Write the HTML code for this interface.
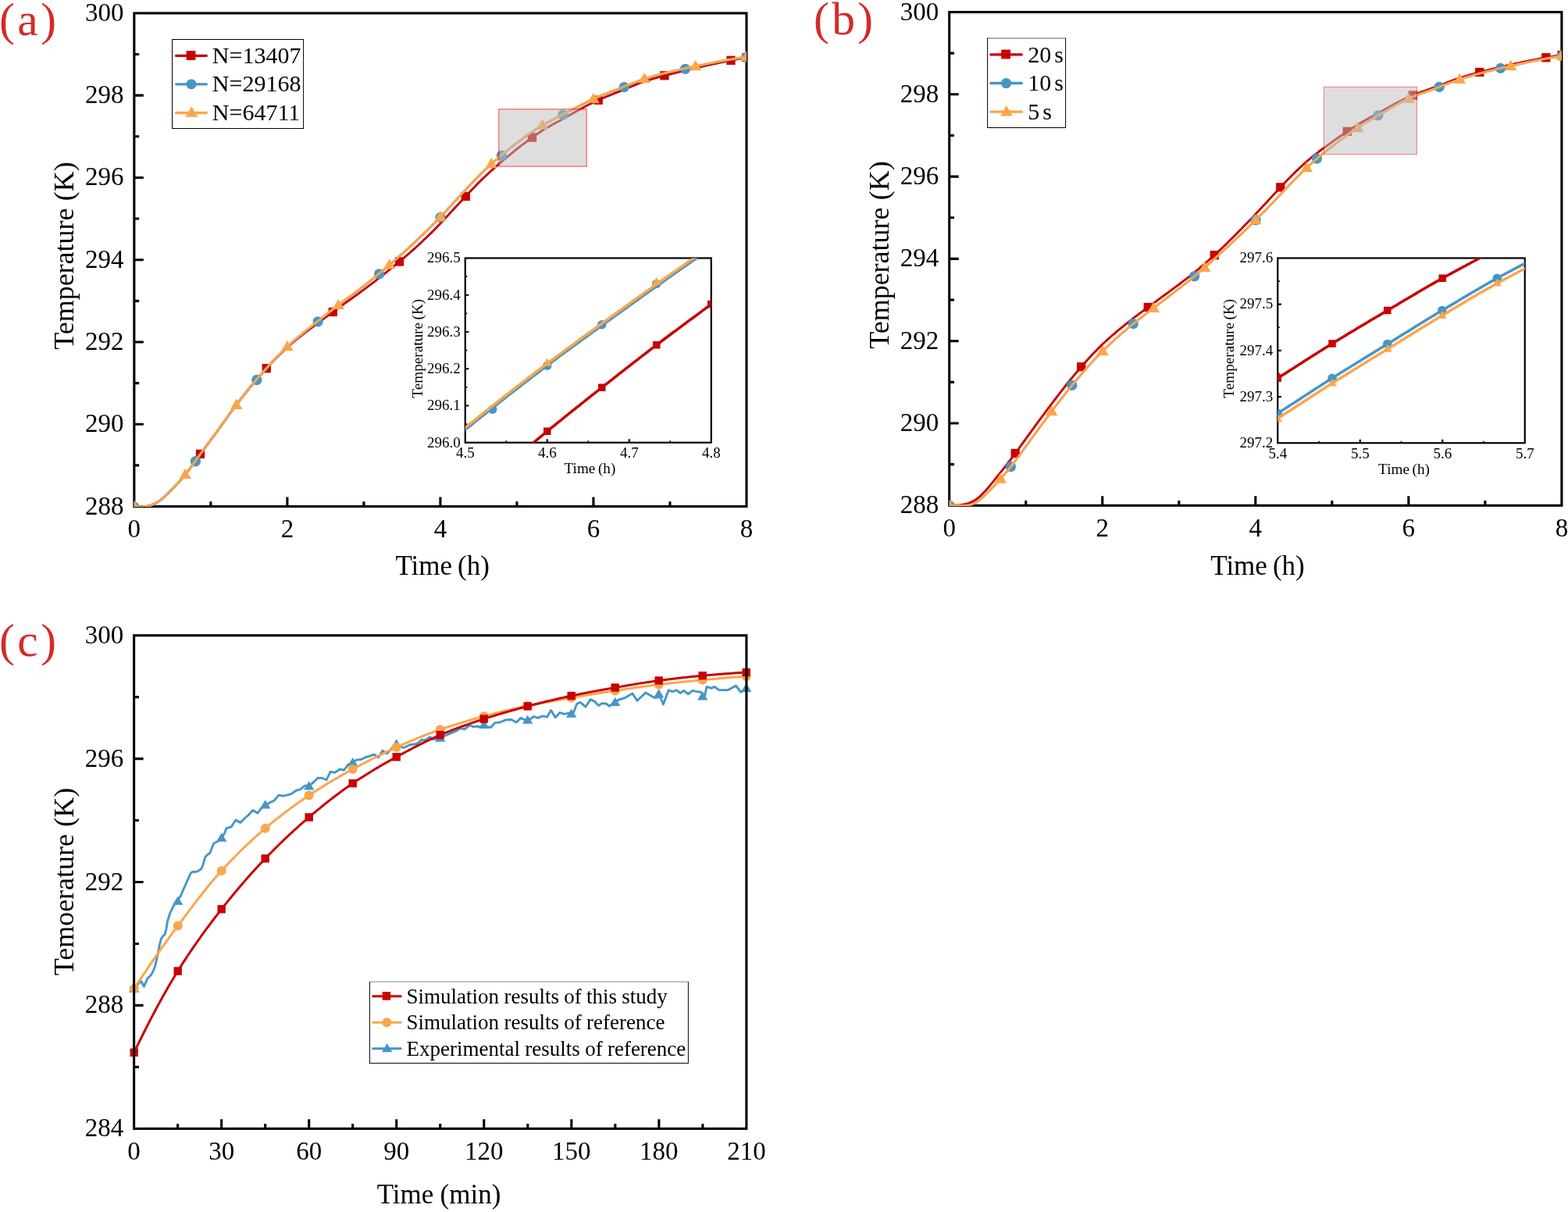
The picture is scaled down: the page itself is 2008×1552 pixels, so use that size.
<!DOCTYPE html>
<html lang="en"><head><meta charset="utf-8"><title>Temperature curves</title>
<style>html,body{margin:0;padding:0;background:#fff}svg{display:block}text{font-family:'Liberation Serif',serif}</style>
</head><body>
<svg width="2008" height="1552" viewBox="0 0 2008 1552" role="img" aria-label="Temperature versus time plots">
<rect width="2008" height="1552" fill="#fff"/>
<g>
<rect x="171.85" y="16.9" width="784.15" height="631.6" fill="none" stroke="#000" stroke-width="3.1"/>
<path d="M171.85 122.17h12M171.85 227.43h12M171.85 332.7h12M171.85 437.97h12M171.85 543.23h12" stroke="#000" stroke-width="3.1" fill="none"/>
<path d="M171.85 69.53h6.3M171.85 174.8h6.3M171.85 280.07h6.3M171.85 385.33h6.3M171.85 490.6h6.3M171.85 595.87h6.3" stroke="#000" stroke-width="3.1" fill="none"/>
<path d="M367.89 648.5v-12M563.92 648.5v-12M759.96 648.5v-12" stroke="#000" stroke-width="3.1" fill="none"/>
<path d="M269.87 648.5v-6.3M465.91 648.5v-6.3M661.94 648.5v-6.3M857.98 648.5v-6.3" stroke="#000" stroke-width="3.1" fill="none"/>
<text x="158.45" y="26.9" font-size="33" text-anchor="end" fill="#000">300</text>
<text x="158.45" y="132.17" font-size="33" text-anchor="end" fill="#000">298</text>
<text x="158.45" y="237.43" font-size="33" text-anchor="end" fill="#000">296</text>
<text x="158.45" y="342.7" font-size="33" text-anchor="end" fill="#000">294</text>
<text x="158.45" y="447.97" font-size="33" text-anchor="end" fill="#000">292</text>
<text x="158.45" y="553.23" font-size="33" text-anchor="end" fill="#000">290</text>
<text x="158.45" y="658.5" font-size="33" text-anchor="end" fill="#000">288</text>
<text x="171.85" y="687.8" font-size="33" text-anchor="middle" fill="#000">0</text>
<text x="367.89" y="687.8" font-size="33" text-anchor="middle" fill="#000">2</text>
<text x="563.92" y="687.8" font-size="33" text-anchor="middle" fill="#000">4</text>
<text x="759.96" y="687.8" font-size="33" text-anchor="middle" fill="#000">6</text>
<text x="956" y="687.8" font-size="33" text-anchor="middle" fill="#000">8</text>
<text x="566.65" y="735.5" font-size="35" text-anchor="middle" fill="#000" style="word-spacing:-1.7px">Time (h)</text>
<text transform="translate(94.35 327.5) rotate(-90)" font-size="36" text-anchor="middle" style="word-spacing:0.3px">Temperature (K)</text>
<clipPath id="c1"><rect x="171.6" y="16.9" width="784.5" height="632.1"/></clipPath>
<g clip-path="url(#c1)">
<path d="M171.85 648.46 L173.85 648.6 L175.85 648.71 L177.85 648.77 L179.85 648.79 L181.85 648.74 L183.85 648.64 L185.85 648.46 L187.85 648.19 L189.85 647.81 L191.85 647.29 L193.85 646.63 L195.85 645.83 L197.85 644.89 L199.86 643.83 L201.86 642.65 L203.86 641.34 L205.86 639.89 L207.86 638.29 L209.86 636.56 L211.86 634.72 L213.86 632.8 L215.86 630.83 L217.86 628.83 L219.86 626.81 L221.86 624.77 L223.86 622.7 L225.86 620.6 L227.86 618.47 L229.86 616.29 L231.86 614.06 L233.86 611.77 L235.86 609.41 L237.86 606.98 L239.86 604.45 L241.86 601.84 L243.86 599.14 L245.86 596.37 L247.86 593.55 L249.86 590.71 L251.87 587.87 L253.87 585.05 L255.87 582.26 L257.87 579.51 L259.87 576.79 L261.87 574.09 L263.87 571.41 L265.87 568.73 L267.87 566.06 L269.87 563.38 L271.87 560.69 L273.87 557.99 L275.87 555.27 L277.87 552.52 L279.87 549.76 L281.87 546.98 L283.87 544.18 L285.87 541.38 L287.87 538.58 L289.87 535.78 L291.87 532.99 L293.87 530.22 L295.87 527.47 L297.87 524.75 L299.87 522.05 L301.87 519.39 L303.88 516.75 L305.88 514.14 L307.88 511.55 L309.88 508.98 L311.88 506.43 L313.88 503.9 L315.88 501.4 L317.88 498.92 L319.88 496.46 L321.88 494.04 L323.88 491.64 L325.88 489.27 L327.88 486.93 L329.88 484.61 L331.88 482.31 L333.88 480.02 L335.88 477.75 L337.88 475.5 L339.88 473.26 L341.88 471.04 L343.88 468.84 L345.88 466.67 L347.88 464.52 L349.88 462.4 L351.88 460.31 L353.88 458.24 L355.89 456.21 L357.89 454.21 L359.89 452.24 L361.89 450.31 L363.89 448.42 L365.89 446.56 L367.89 444.73 L369.89 442.95 L371.89 441.2 L373.89 439.48 L375.89 437.79 L377.89 436.13 L379.89 434.5 L381.89 432.89 L383.89 431.31 L385.89 429.74 L387.89 428.19 L389.89 426.65 L391.89 425.12 L393.89 423.61 L395.89 422.1 L397.89 420.59 L399.89 419.09 L401.89 417.59 L403.89 416.09 L405.89 414.58 L407.9 413.08 L409.9 411.58 L411.9 410.09 L413.9 408.6 L415.9 407.11 L417.9 405.64 L419.9 404.16 L421.9 402.7 L423.9 401.23 L425.9 399.76 L427.9 398.3 L429.9 396.84 L431.9 395.38 L433.9 393.93 L435.9 392.48 L437.9 391.04 L439.9 389.61 L441.9 388.19 L443.9 386.77 L445.9 385.36 L447.9 383.95 L449.9 382.53 L451.9 381.11 L453.9 379.69 L455.9 378.26 L457.9 376.82 L459.91 375.37 L461.91 373.91 L463.91 372.43 L465.91 370.95 L467.91 369.45 L469.91 367.95 L471.91 366.43 L473.91 364.92 L475.91 363.39 L477.91 361.85 L479.91 360.31 L481.91 358.76 L483.91 357.21 L485.91 355.64 L487.91 354.07 L489.91 352.49 L491.91 350.9 L493.91 349.3 L495.91 347.7 L497.91 346.09 L499.91 344.47 L501.91 342.85 L503.91 341.22 L505.91 339.58 L507.91 337.94 L509.91 336.3 L511.92 334.64 L513.92 332.98 L515.92 331.31 L517.92 329.62 L519.92 327.93 L521.92 326.21 L523.92 324.48 L525.92 322.73 L527.92 320.96 L529.92 319.17 L531.92 317.37 L533.92 315.54 L535.92 313.69 L537.92 311.83 L539.92 309.95 L541.92 308.06 L543.92 306.15 L545.92 304.23 L547.92 302.3 L549.92 300.35 L551.92 298.38 L553.92 296.41 L555.92 294.41 L557.92 292.4 L559.92 290.37 L561.92 288.32 L563.92 286.25 L565.93 284.14 L567.93 282.01 L569.93 279.84 L571.93 277.66 L573.93 275.48 L575.93 273.29 L577.93 271.11 L579.93 268.95 L581.93 266.8 L583.93 264.66 L585.93 262.51 L587.93 260.37 L589.93 258.23 L591.93 256.08 L593.93 253.94 L595.93 251.8 L597.93 249.66 L599.93 247.54 L601.93 245.42 L603.93 243.32 L605.93 241.23 L607.93 239.16 L609.93 237.11 L611.93 235.07 L613.93 233.06 L615.93 231.07 L617.94 229.11 L619.94 227.18 L621.94 225.27 L623.94 223.39 L625.94 221.54 L627.94 219.72 L629.94 217.93 L631.94 216.15 L633.94 214.38 L635.94 212.63 L637.94 210.88 L639.94 209.15 L641.94 207.42 L643.94 205.7 L645.94 204 L647.94 202.31 L649.94 200.62 L651.94 198.96 L653.94 197.3 L655.94 195.66 L657.94 194.04 L659.94 192.43 L661.94 190.83 L663.94 189.25 L665.94 187.69 L667.94 186.14 L669.95 184.6 L671.95 183.08 L673.95 181.58 L675.95 180.09 L677.95 178.62 L679.95 177.17 L681.95 175.73 L683.95 174.32 L685.95 172.93 L687.95 171.55 L689.95 170.2 L691.95 168.88 L693.95 167.58 L695.95 166.31 L697.95 165.08 L699.95 163.87 L701.95 162.7 L703.95 161.55 L705.95 160.42 L707.95 159.32 L709.95 158.22 L711.95 157.13 L713.95 156.05 L715.95 154.96 L717.95 153.87 L719.95 152.77 L721.96 151.66 L723.96 150.54 L725.96 149.41 L727.96 148.28 L729.96 147.15 L731.96 146.02 L733.96 144.88 L735.96 143.75 L737.96 142.62 L739.96 141.5 L741.96 140.39 L743.96 139.29 L745.96 138.2 L747.96 137.12 L749.96 136.06 L751.96 135.02 L753.96 133.99 L755.96 132.99 L757.96 132 L759.96 131.04 L761.96 130.1 L763.96 129.18 L765.96 128.28 L767.96 127.4 L769.96 126.53 L771.96 125.68 L773.97 124.83 L775.97 124 L777.97 123.18 L779.97 122.37 L781.97 121.57 L783.97 120.76 L785.97 119.97 L787.97 119.17 L789.97 118.38 L791.97 117.58 L793.97 116.78 L795.97 115.98 L797.97 115.17 L799.97 114.36 L801.97 113.53 L803.97 112.7 L805.97 111.86 L807.97 111.02 L809.97 110.19 L811.97 109.36 L813.97 108.54 L815.97 107.73 L817.97 106.95 L819.97 106.19 L821.97 105.46 L823.97 104.76 L825.98 104.08 L827.98 103.42 L829.98 102.79 L831.98 102.17 L833.98 101.56 L835.98 100.97 L837.98 100.38 L839.98 99.81 L841.98 99.24 L843.98 98.69 L845.98 98.14 L847.98 97.6 L849.98 97.06 L851.98 96.54 L853.98 96.02 L855.98 95.5 L857.98 94.99 L859.98 94.49 L861.98 93.99 L863.98 93.5 L865.98 93.01 L867.98 92.52 L869.98 92.03 L871.98 91.55 L873.98 91.07 L875.98 90.59 L877.99 90.12 L879.99 89.64 L881.99 89.17 L883.99 88.69 L885.99 88.22 L887.99 87.76 L889.99 87.29 L891.99 86.83 L893.99 86.37 L895.99 85.91 L897.99 85.45 L899.99 84.99 L901.99 84.54 L903.99 84.09 L905.99 83.65 L907.99 83.2 L909.99 82.76 L911.99 82.32 L913.99 81.89 L915.99 81.46 L917.99 81.03 L919.99 80.6 L921.99 80.18 L923.99 79.76 L925.99 79.34 L927.99 78.93 L930 78.52 L932 78.11 L934 77.71 L936 77.31 L938 76.91 L940 76.52 L942 76.13 L944 75.74 L946 75.36 L948 74.98 L950 74.61 L952 74.24 L954 73.87 L956 73.5" fill="none" stroke="#c90000" stroke-width="2.9" stroke-linejoin="round"/>
<rect x="250.85" y="575.74" width="11.3" height="11.3" fill="#c90000"/>
<rect x="335.65" y="466.04" width="11.3" height="11.3" fill="#c90000"/>
<rect x="420.65" y="393.82" width="11.3" height="11.3" fill="#c90000"/>
<rect x="505.85" y="329.34" width="11.3" height="11.3" fill="#c90000"/>
<rect x="590.65" y="245.75" width="11.3" height="11.3" fill="#c90000"/>
<rect x="675.85" y="170.4" width="11.3" height="11.3" fill="#c90000"/>
<rect x="760.55" y="122.52" width="11.3" height="11.3" fill="#c90000"/>
<rect x="845.35" y="91.14" width="11.3" height="11.3" fill="#c90000"/>
<rect x="930.35" y="71.66" width="11.3" height="11.3" fill="#c90000"/>
<rect x="950.35" y="67.85" width="11.3" height="11.3" fill="#c90000"/>
<path d="M171.85 649.06 L173.85 649.2 L175.85 649.31 L177.85 649.37 L179.85 649.39 L181.85 649.34 L183.85 649.24 L185.85 649.06 L187.85 648.79 L189.85 648.41 L191.85 647.89 L193.85 647.23 L195.85 646.43 L197.85 645.49 L199.86 644.43 L201.86 643.25 L203.86 641.94 L205.86 640.49 L207.86 638.89 L209.86 637.16 L211.86 635.32 L213.86 633.4 L215.86 631.43 L217.86 629.43 L219.86 627.41 L221.86 625.37 L223.86 623.3 L225.86 621.2 L227.86 619.07 L229.86 616.89 L231.86 614.66 L233.86 612.37 L235.86 610.01 L237.86 607.58 L239.86 605.05 L241.86 602.44 L243.86 599.74 L245.86 596.97 L247.86 594.15 L249.86 591.31 L251.87 588.47 L253.87 585.65 L255.87 582.86 L257.87 580.11 L259.87 577.39 L261.87 574.69 L263.87 572.01 L265.87 569.33 L267.87 566.66 L269.87 563.98 L271.87 561.29 L273.87 558.59 L275.87 555.87 L277.87 553.12 L279.87 550.36 L281.87 547.58 L283.87 544.78 L285.87 541.98 L287.87 539.18 L289.87 536.38 L291.87 533.59 L293.87 530.82 L295.87 528.07 L297.87 525.35 L299.87 522.65 L301.87 519.98 L303.88 517.34 L305.88 514.72 L307.88 512.13 L309.88 509.55 L311.88 506.99 L313.88 504.45 L315.88 501.94 L317.88 499.44 L319.88 496.98 L321.88 494.53 L323.88 492.12 L325.88 489.73 L327.88 487.37 L329.88 485.03 L331.88 482.71 L333.88 480.4 L335.88 478.11 L337.88 475.83 L339.88 473.56 L341.88 471.31 L343.88 469.08 L345.88 466.87 L347.88 464.68 L349.88 462.51 L351.88 460.37 L353.88 458.25 L355.89 456.16 L357.89 454.1 L359.89 452.07 L361.89 450.07 L363.89 448.1 L365.89 446.17 L367.89 444.28 L369.89 442.42 L371.89 440.6 L373.89 438.8 L375.89 437.04 L377.89 435.31 L379.89 433.6 L381.89 431.92 L383.89 430.26 L385.89 428.62 L387.89 426.99 L389.89 425.37 L391.89 423.77 L393.89 422.17 L395.89 420.58 L397.89 418.99 L399.89 417.4 L401.89 415.81 L403.89 414.22 L405.89 412.62 L407.9 411.02 L409.9 409.42 L411.9 407.82 L413.9 406.23 L415.9 404.64 L417.9 403.06 L419.9 401.48 L421.9 399.91 L423.9 398.35 L425.9 396.79 L427.9 395.24 L429.9 393.69 L431.9 392.15 L433.9 390.61 L435.9 389.09 L437.9 387.58 L439.9 386.07 L441.9 384.58 L443.9 383.09 L445.9 381.61 L447.9 380.13 L449.9 378.64 L451.9 377.16 L453.9 375.67 L455.9 374.17 L457.9 372.66 L459.91 371.14 L461.91 369.61 L463.91 368.06 L465.91 366.5 L467.91 364.93 L469.91 363.34 L471.91 361.75 L473.91 360.15 L475.91 358.55 L477.91 356.93 L479.91 355.31 L481.91 353.67 L483.91 352.03 L485.91 350.38 L487.91 348.72 L489.91 347.05 L491.91 345.37 L493.91 343.68 L495.91 341.98 L497.91 340.27 L499.91 338.55 L501.91 336.82 L503.91 335.08 L505.91 333.33 L507.91 331.57 L509.91 329.8 L511.92 328.02 L513.92 326.23 L515.92 324.42 L517.92 322.61 L519.92 320.8 L521.92 318.97 L523.92 317.13 L525.92 315.28 L527.92 313.43 L529.92 311.56 L531.92 309.69 L533.92 307.81 L535.92 305.92 L537.92 304.02 L539.92 302.11 L541.92 300.19 L543.92 298.27 L545.92 296.33 L547.92 294.38 L549.92 292.41 L551.92 290.44 L553.92 288.44 L555.92 286.44 L557.92 284.42 L559.92 282.37 L561.92 280.31 L563.92 278.22 L565.93 276.11 L567.93 273.96 L569.93 271.79 L571.93 269.59 L573.93 267.4 L575.93 265.2 L577.93 263.01 L579.93 260.84 L581.93 258.68 L583.93 256.52 L585.93 254.37 L587.93 252.22 L589.93 250.06 L591.93 247.9 L593.93 245.75 L595.93 243.59 L597.93 241.44 L599.93 239.3 L601.93 237.17 L603.93 235.05 L605.93 232.95 L607.93 230.86 L609.93 228.79 L611.93 226.74 L613.93 224.72 L615.93 222.72 L617.94 220.75 L619.94 218.8 L621.94 216.89 L623.94 215.01 L625.94 213.17 L627.94 211.36 L629.94 209.57 L631.94 207.82 L633.94 206.08 L635.94 204.35 L637.94 202.64 L639.94 200.94 L641.94 199.26 L643.94 197.59 L645.94 195.93 L647.94 194.29 L649.94 192.66 L651.94 191.04 L653.94 189.44 L655.94 187.86 L657.94 186.29 L659.94 184.73 L661.94 183.2 L663.94 181.68 L665.94 180.17 L667.94 178.69 L669.95 177.22 L671.95 175.77 L673.95 174.34 L675.95 172.93 L677.95 171.54 L679.95 170.16 L681.95 168.81 L683.95 167.48 L685.95 166.17 L687.95 164.87 L689.95 163.61 L691.95 162.36 L693.95 161.14 L695.95 159.95 L697.95 158.79 L699.95 157.67 L701.95 156.57 L703.95 155.5 L705.95 154.45 L707.95 153.43 L709.95 152.41 L711.95 151.4 L713.95 150.4 L715.95 149.39 L717.95 148.38 L719.95 147.36 L721.96 146.34 L723.96 145.3 L725.96 144.26 L727.96 143.21 L729.96 142.16 L731.96 141.1 L733.96 140.05 L735.96 139 L737.96 137.95 L739.96 136.9 L741.96 135.87 L743.96 134.84 L745.96 133.82 L747.96 132.81 L749.96 131.81 L751.96 130.83 L753.96 129.87 L755.96 128.92 L757.96 127.99 L759.96 127.09 L761.96 126.2 L763.96 125.32 L765.96 124.47 L767.96 123.63 L769.96 122.8 L771.96 121.99 L773.97 121.18 L775.97 120.39 L777.97 119.6 L779.97 118.82 L781.97 118.05 L783.97 117.28 L785.97 116.51 L787.97 115.75 L789.97 114.98 L791.97 114.21 L793.97 113.44 L795.97 112.67 L797.97 111.89 L799.97 111.09 L801.97 110.3 L803.97 109.49 L805.97 108.68 L807.97 107.86 L809.97 107.05 L811.97 106.24 L813.97 105.45 L815.97 104.67 L817.97 103.91 L819.97 103.17 L821.97 102.46 L823.97 101.78 L825.98 101.13 L827.98 100.5 L829.98 99.89 L831.98 99.3 L833.98 98.72 L835.98 98.15 L837.98 97.59 L839.98 97.04 L841.98 96.51 L843.98 95.98 L845.98 95.46 L847.98 94.95 L849.98 94.45 L851.98 93.95 L853.98 93.47 L855.98 92.99 L857.98 92.51 L859.98 92.04 L861.98 91.58 L863.98 91.12 L865.98 90.67 L867.98 90.21 L869.98 89.77 L871.98 89.32 L873.98 88.88 L875.98 88.44 L877.99 88 L879.99 87.56 L881.99 87.12 L883.99 86.69 L885.99 86.26 L887.99 85.83 L889.99 85.41 L891.99 84.98 L893.99 84.56 L895.99 84.14 L897.99 83.73 L899.99 83.31 L901.99 82.9 L903.99 82.49 L905.99 82.09 L907.99 81.69 L909.99 81.29 L911.99 80.89 L913.99 80.5 L915.99 80.11 L917.99 79.73 L919.99 79.34 L921.99 78.96 L923.99 78.59 L925.99 78.22 L927.99 77.85 L930 77.48 L932 77.12 L934 76.77 L936 76.41 L938 76.06 L940 75.72 L942 75.38 L944 75.04 L946 74.71 L948 74.38 L950 74.05 L952 73.73 L954 73.42 L956 73.1" fill="none" stroke="#4596c8" stroke-width="2.6" stroke-linejoin="round"/>
<circle cx="171.85" cy="649.26" r="6.65" fill="#4596c8"/>
<circle cx="250.4" cy="590.75" r="6.65" fill="#4596c8"/>
<circle cx="328.8" cy="486.49" r="6.65" fill="#4596c8"/>
<circle cx="407.2" cy="411.78" r="6.65" fill="#4596c8"/>
<circle cx="485.6" cy="350.83" r="6.65" fill="#4596c8"/>
<circle cx="564" cy="278.34" r="6.65" fill="#4596c8"/>
<circle cx="642.4" cy="199.07" r="6.65" fill="#4596c8"/>
<circle cx="720.8" cy="147.13" r="6.65" fill="#4596c8"/>
<circle cx="799.2" cy="111.6" r="6.65" fill="#4596c8"/>
<circle cx="877.6" cy="88.28" r="6.65" fill="#4596c8"/>
<circle cx="956" cy="73.3" r="6.65" fill="#4596c8"/>
<path d="M171.85 648.46 L173.85 648.6 L175.85 648.71 L177.85 648.77 L179.85 648.79 L181.85 648.74 L183.85 648.64 L185.85 648.46 L187.85 648.19 L189.85 647.81 L191.85 647.29 L193.85 646.63 L195.85 645.83 L197.85 644.89 L199.86 643.83 L201.86 642.65 L203.86 641.34 L205.86 639.89 L207.86 638.29 L209.86 636.56 L211.86 634.72 L213.86 632.8 L215.86 630.83 L217.86 628.83 L219.86 626.81 L221.86 624.77 L223.86 622.7 L225.86 620.6 L227.86 618.47 L229.86 616.29 L231.86 614.06 L233.86 611.77 L235.86 609.41 L237.86 606.98 L239.86 604.45 L241.86 601.84 L243.86 599.14 L245.86 596.37 L247.86 593.55 L249.86 590.71 L251.87 587.87 L253.87 585.05 L255.87 582.26 L257.87 579.51 L259.87 576.79 L261.87 574.09 L263.87 571.41 L265.87 568.73 L267.87 566.06 L269.87 563.38 L271.87 560.69 L273.87 557.99 L275.87 555.27 L277.87 552.52 L279.87 549.76 L281.87 546.98 L283.87 544.18 L285.87 541.38 L287.87 538.58 L289.87 535.78 L291.87 532.99 L293.87 530.22 L295.87 527.47 L297.87 524.75 L299.87 522.05 L301.87 519.38 L303.88 516.74 L305.88 514.12 L307.88 511.53 L309.88 508.95 L311.88 506.39 L313.88 503.85 L315.88 501.34 L317.88 498.84 L319.88 496.38 L321.88 493.93 L323.88 491.52 L325.88 489.13 L327.88 486.77 L329.88 484.43 L331.88 482.11 L333.88 479.8 L335.88 477.51 L337.88 475.23 L339.88 472.96 L341.88 470.71 L343.88 468.48 L345.88 466.27 L347.88 464.08 L349.88 461.91 L351.88 459.77 L353.88 457.65 L355.89 455.56 L357.89 453.5 L359.89 451.47 L361.89 449.47 L363.89 447.5 L365.89 445.57 L367.89 443.68 L369.89 441.82 L371.89 440 L373.89 438.2 L375.89 436.44 L377.89 434.71 L379.89 433 L381.89 431.32 L383.89 429.66 L385.89 428.02 L387.89 426.39 L389.89 424.77 L391.89 423.17 L393.89 421.57 L395.89 419.98 L397.89 418.39 L399.89 416.8 L401.89 415.21 L403.89 413.62 L405.89 412.02 L407.9 410.42 L409.9 408.82 L411.9 407.22 L413.9 405.63 L415.9 404.04 L417.9 402.46 L419.9 400.88 L421.9 399.31 L423.9 397.75 L425.9 396.19 L427.9 394.64 L429.9 393.09 L431.9 391.55 L433.9 390.01 L435.9 388.49 L437.9 386.98 L439.9 385.47 L441.9 383.98 L443.9 382.49 L445.9 381.01 L447.9 379.53 L449.9 378.04 L451.9 376.56 L453.9 375.07 L455.9 373.57 L457.9 372.06 L459.91 370.54 L461.91 369.01 L463.91 367.46 L465.91 365.9 L467.91 364.33 L469.91 362.74 L471.91 361.15 L473.91 359.55 L475.91 357.95 L477.91 356.33 L479.91 354.71 L481.91 353.07 L483.91 351.43 L485.91 349.78 L487.91 348.12 L489.91 346.45 L491.91 344.77 L493.91 343.08 L495.91 341.38 L497.91 339.67 L499.91 337.95 L501.91 336.22 L503.91 334.48 L505.91 332.73 L507.91 330.97 L509.91 329.2 L511.92 327.42 L513.92 325.63 L515.92 323.82 L517.92 322.01 L519.92 320.2 L521.92 318.37 L523.92 316.53 L525.92 314.68 L527.92 312.83 L529.92 310.96 L531.92 309.09 L533.92 307.21 L535.92 305.32 L537.92 303.42 L539.92 301.51 L541.92 299.59 L543.92 297.67 L545.92 295.73 L547.92 293.78 L549.92 291.81 L551.92 289.84 L553.92 287.84 L555.92 285.84 L557.92 283.82 L559.92 281.77 L561.92 279.71 L563.92 277.62 L565.93 275.51 L567.93 273.36 L569.93 271.19 L571.93 268.99 L573.93 266.8 L575.93 264.6 L577.93 262.41 L579.93 260.24 L581.93 258.08 L583.93 255.92 L585.93 253.77 L587.93 251.62 L589.93 249.46 L591.93 247.3 L593.93 245.15 L595.93 242.99 L597.93 240.84 L599.93 238.7 L601.93 236.57 L603.93 234.45 L605.93 232.35 L607.93 230.26 L609.93 228.19 L611.93 226.14 L613.93 224.12 L615.93 222.12 L617.94 220.15 L619.94 218.2 L621.94 216.29 L623.94 214.41 L625.94 212.57 L627.94 210.76 L629.94 208.97 L631.94 207.22 L633.94 205.48 L635.94 203.75 L637.94 202.04 L639.94 200.34 L641.94 198.66 L643.94 196.99 L645.94 195.33 L647.94 193.69 L649.94 192.06 L651.94 190.44 L653.94 188.84 L655.94 187.26 L657.94 185.69 L659.94 184.13 L661.94 182.6 L663.94 181.08 L665.94 179.57 L667.94 178.09 L669.95 176.62 L671.95 175.17 L673.95 173.74 L675.95 172.33 L677.95 170.94 L679.95 169.56 L681.95 168.21 L683.95 166.88 L685.95 165.57 L687.95 164.27 L689.95 163.01 L691.95 161.76 L693.95 160.54 L695.95 159.35 L697.95 158.19 L699.95 157.07 L701.95 155.97 L703.95 154.9 L705.95 153.85 L707.95 152.83 L709.95 151.81 L711.95 150.8 L713.95 149.8 L715.95 148.79 L717.95 147.78 L719.95 146.76 L721.96 145.74 L723.96 144.7 L725.96 143.66 L727.96 142.61 L729.96 141.56 L731.96 140.5 L733.96 139.45 L735.96 138.4 L737.96 137.35 L739.96 136.3 L741.96 135.27 L743.96 134.24 L745.96 133.22 L747.96 132.21 L749.96 131.21 L751.96 130.23 L753.96 129.27 L755.96 128.32 L757.96 127.39 L759.96 126.49 L761.96 125.6 L763.96 124.72 L765.96 123.87 L767.96 123.03 L769.96 122.2 L771.96 121.39 L773.97 120.58 L775.97 119.79 L777.97 119 L779.97 118.22 L781.97 117.45 L783.97 116.68 L785.97 115.91 L787.97 115.15 L789.97 114.38 L791.97 113.61 L793.97 112.84 L795.97 112.07 L797.97 111.29 L799.97 110.49 L801.97 109.7 L803.97 108.89 L805.97 108.08 L807.97 107.26 L809.97 106.45 L811.97 105.64 L813.97 104.85 L815.97 104.07 L817.97 103.31 L819.97 102.57 L821.97 101.86 L823.97 101.18 L825.98 100.53 L827.98 99.9 L829.98 99.29 L831.98 98.7 L833.98 98.12 L835.98 97.55 L837.98 96.99 L839.98 96.44 L841.98 95.91 L843.98 95.38 L845.98 94.86 L847.98 94.35 L849.98 93.85 L851.98 93.35 L853.98 92.87 L855.98 92.39 L857.98 91.91 L859.98 91.44 L861.98 90.98 L863.98 90.52 L865.98 90.07 L867.98 89.61 L869.98 89.17 L871.98 88.72 L873.98 88.28 L875.98 87.84 L877.99 87.4 L879.99 86.96 L881.99 86.52 L883.99 86.09 L885.99 85.66 L887.99 85.23 L889.99 84.81 L891.99 84.38 L893.99 83.96 L895.99 83.54 L897.99 83.13 L899.99 82.71 L901.99 82.3 L903.99 81.89 L905.99 81.49 L907.99 81.09 L909.99 80.69 L911.99 80.29 L913.99 79.9 L915.99 79.51 L917.99 79.13 L919.99 78.74 L921.99 78.36 L923.99 77.99 L925.99 77.62 L927.99 77.25 L930 76.88 L932 76.52 L934 76.17 L936 75.81 L938 75.46 L940 75.12 L942 74.78 L944 74.44 L946 74.11 L948 73.78 L950 73.45 L952 73.13 L954 72.82 L956 72.5" fill="none" stroke="#fda54b" stroke-width="2.9" stroke-linejoin="round"/>
<path d="M171.85 640.65 L179.6 654.05 L164.1 654.05 Z" fill="#fda54b"/>
<path d="M237.3 599.86 L245.05 613.26 L229.55 613.26 Z" fill="#fda54b"/>
<path d="M302.7 510.48 L310.45 523.88 L294.95 523.88 Z" fill="#fda54b"/>
<path d="M368 435.77 L375.75 449.17 L360.25 449.17 Z" fill="#fda54b"/>
<path d="M433.3 382.66 L441.05 396.06 L425.55 396.06 Z" fill="#fda54b"/>
<path d="M498.7 331.19 L506.45 344.59 L490.95 344.59 Z" fill="#fda54b"/>
<path d="M564 269.74 L571.75 283.14 L556.25 283.14 Z" fill="#fda54b"/>
<path d="M629.3 201.73 L637.05 215.13 L621.55 215.13 Z" fill="#fda54b"/>
<path d="M694.7 152.28 L702.45 165.68 L686.95 165.68 Z" fill="#fda54b"/>
<path d="M760 118.66 L767.75 132.06 L752.25 132.06 Z" fill="#fda54b"/>
<path d="M825.3 92.94 L833.05 106.34 L817.55 106.34 Z" fill="#fda54b"/>
<path d="M890.7 76.85 L898.45 90.25 L882.95 90.25 Z" fill="#fda54b"/>
<path d="M956 64.7 L963.75 78.1 L948.25 78.1 Z" fill="#fda54b"/>
</g>
</g>
<text x="-0.9" y="44.8" font-size="59.5" text-anchor="start" fill="#d42a2a" letter-spacing="3.4">(a)</text>
<rect x="220.5" y="50.5" width="168.1" height="114" fill="#fff" stroke="#000" stroke-width="1"/>
<path d="M225.6 71.4H264.4" stroke="#c90000" stroke-width="3.3" stroke-linecap="round"/>
<rect x="238.6" y="65.1" width="11.8" height="11.8" fill="#c90000"/>
<text x="271.8" y="81" font-size="30" text-anchor="start" fill="#000">N=13407</text>
<path d="M225.6 107.8H264.4" stroke="#4596c8" stroke-width="3.3" stroke-linecap="round"/>
<circle cx="245" cy="107.8" r="6.55" fill="#4596c8"/>
<text x="271.8" y="117.4" font-size="30" text-anchor="start" fill="#000">N=29168</text>
<path d="M225.6 144.5H264.4" stroke="#fda54b" stroke-width="3.3" stroke-linecap="round"/>
<path d="M245.3 136.29 L253.2 149.69 L237.4 149.69 Z" fill="#fda54b"/>
<text x="271.8" y="154.1" font-size="30" text-anchor="start" fill="#000">N=64711</text>
<rect x="638.8" y="139.8" width="112.4" height="73.2" fill="#bebebe" stroke="#ff0000" stroke-width="1.6" opacity="0.5"/>
<g>
<rect x="595.75" y="330.5" width="315" height="236.25" fill="none" stroke="#000" stroke-width="2.2"/>
<path d="M595.75 377.75h4.6M595.75 425h4.6M595.75 472.25h4.6M595.75 519.5h4.6" stroke="#000" stroke-width="2.2" fill="none"/>
<path d="M595.75 354.12h2.6M595.75 401.38h2.6M595.75 448.62h2.6M595.75 495.88h2.6M595.75 543.12h2.6" stroke="#000" stroke-width="1.6" fill="none"/>
<path d="M700.75 566.75v-4.6M805.75 566.75v-4.6" stroke="#000" stroke-width="2.2" fill="none"/>
<path d="M648.25 566.75v-2.6M753.25 566.75v-2.6M858.25 566.75v-2.6" stroke="#000" stroke-width="1.6" fill="none"/>
<text x="589.75" y="336.3" font-size="19" text-anchor="end" fill="#000">296.5</text>
<text x="589.75" y="383.55" font-size="19" text-anchor="end" fill="#000">296.4</text>
<text x="589.75" y="430.8" font-size="19" text-anchor="end" fill="#000">296.3</text>
<text x="589.75" y="478.05" font-size="19" text-anchor="end" fill="#000">296.2</text>
<text x="589.75" y="525.3" font-size="19" text-anchor="end" fill="#000">296.1</text>
<text x="589.75" y="572.55" font-size="19" text-anchor="end" fill="#000">296.0</text>
<text x="595.75" y="586.05" font-size="19" text-anchor="middle" fill="#000">4.5</text>
<text x="700.75" y="586.05" font-size="19" text-anchor="middle" fill="#000">4.6</text>
<text x="805.75" y="586.05" font-size="19" text-anchor="middle" fill="#000">4.7</text>
<text x="910.75" y="586.05" font-size="19" text-anchor="middle" fill="#000">4.8</text>
<text x="755.4" y="606.15" font-size="19.2" text-anchor="middle" fill="#000" style="word-spacing:-1.2px">Time (h)</text>
<text transform="translate(540.8 446.2) rotate(-90)" font-size="19.2" text-anchor="middle" style="word-spacing:-1.2px">Temperature (K)</text>
<clipPath id="c2"><rect x="595.75" y="330.5" width="315" height="236.25"/></clipPath>
<g clip-path="url(#c2)">
<path d="M676 572.5 L679 570.14 L682 567.76 L685 565.33 L688 562.86 L691 560.36 L694 557.85 L697 555.34 L700 552.86 L703 550.41 L706 547.97 L709 545.53 L712 543.1 L715 540.67 L718 538.25 L721 535.83 L724 533.42 L727 531.01 L730 528.61 L733 526.2 L736 523.81 L739 521.41 L742 519.02 L745 516.64 L748 514.25 L751 511.87 L754 509.49 L757 507.12 L760 504.74 L763 502.37 L766 500 L769 497.63 L772 495.26 L775 492.9 L778 490.53 L781 488.17 L784 485.81 L787 483.45 L790 481.09 L793 478.74 L796 476.39 L799 474.04 L802 471.69 L805 469.35 L808 467.01 L811 464.67 L814 462.34 L817 460.01 L820 457.69 L823 455.37 L826 453.06 L829 450.75 L832 448.44 L835 446.14 L838 443.85 L841 441.56 L844 439.28 L847 437.01 L850 434.75 L853 432.49 L856 430.25 L859 428.01 L862 425.77 L865 423.54 L868 421.31 L871 419.09 L874 416.87 L877 414.65 L880 412.43 L883 410.21 L886 407.99 L889 405.76 L892 403.54 L895 401.31 L898 399.07 L901 396.83 L904 394.58 L907 392.33 L910 390.07 L913 387.79 L916 385.5" fill="none" stroke="#c90000" stroke-width="3.5" stroke-linejoin="round"/>
<rect x="696" y="547.5" width="9.5" height="9.5" fill="#c90000"/>
<rect x="766" y="491.5" width="9.5" height="9.5" fill="#c90000"/>
<rect x="836" y="437" width="9.5" height="9.5" fill="#c90000"/>
<rect x="906" y="384.75" width="9.5" height="9.5" fill="#c90000"/>
<path d="M590 555.1 L593.01 552.64 L596.02 550.19 L599.03 547.74 L602.04 545.3 L605.05 542.86 L608.06 540.43 L611.06 538 L614.07 535.58 L617.08 533.17 L620.09 530.76 L623.1 528.36 L626.11 525.96 L629.12 523.57 L632.13 521.18 L635.14 518.8 L638.15 516.42 L641.16 514.05 L644.17 511.69 L647.18 509.32 L650.19 506.97 L653.19 504.62 L656.2 502.27 L659.21 499.93 L662.22 497.59 L665.23 495.26 L668.24 492.94 L671.25 490.61 L674.26 488.3 L677.27 485.99 L680.28 483.68 L683.29 481.37 L686.3 479.08 L689.31 476.78 L692.31 474.49 L695.32 472.21 L698.33 469.93 L701.34 467.65 L704.35 465.38 L707.36 463.13 L710.37 460.88 L713.38 458.64 L716.39 456.41 L719.4 454.18 L722.41 451.96 L725.42 449.75 L728.43 447.55 L731.44 445.35 L734.44 443.15 L737.45 440.96 L740.46 438.78 L743.47 436.59 L746.48 434.41 L749.49 432.23 L752.5 430.06 L755.51 427.88 L758.52 425.7 L761.53 423.53 L764.54 421.35 L767.55 419.17 L770.56 416.99 L773.56 414.81 L776.57 412.63 L779.58 410.45 L782.59 408.28 L785.6 406.11 L788.61 403.94 L791.62 401.77 L794.63 399.6 L797.64 397.43 L800.65 395.27 L803.66 393.11 L806.67 390.95 L809.68 388.79 L812.69 386.63 L815.69 384.48 L818.7 382.32 L821.71 380.17 L824.72 378.02 L827.73 375.87 L830.74 373.73 L833.75 371.58 L836.76 369.44 L839.77 367.3 L842.78 365.16 L845.79 363.02 L848.8 360.89 L851.81 358.77 L854.81 356.64 L857.82 354.52 L860.83 352.4 L863.84 350.28 L866.85 348.16 L869.86 346.05 L872.87 343.93 L875.88 341.82 L878.89 339.7 L881.9 337.58 L884.91 335.46 L887.92 333.34 L890.93 331.21 L893.94 329.09 L896.94 326.96 L899.95 324.83 L902.96 322.71 L905.97 320.58 L908.98 318.45 L911.99 316.33 L915 314.2" fill="none" stroke="#4596c8" stroke-width="3.5" stroke-linejoin="round"/>
<circle cx="630.75" cy="524.25" r="5.75" fill="#4596c8"/>
<circle cx="700.75" cy="468.3" r="5.75" fill="#4596c8"/>
<circle cx="770.75" cy="415.8" r="5.75" fill="#4596c8"/>
<circle cx="840.75" cy="363.5" r="5.75" fill="#4596c8"/>
<path d="M590 552.5 L593.01 550.04 L596.02 547.59 L599.03 545.14 L602.04 542.7 L605.05 540.26 L608.06 537.83 L611.06 535.4 L614.07 532.98 L617.08 530.57 L620.09 528.16 L623.1 525.76 L626.11 523.36 L629.12 520.97 L632.13 518.58 L635.14 516.2 L638.15 513.82 L641.16 511.45 L644.17 509.09 L647.18 506.72 L650.19 504.37 L653.19 502.02 L656.2 499.67 L659.21 497.33 L662.22 494.99 L665.23 492.66 L668.24 490.34 L671.25 488.01 L674.26 485.7 L677.27 483.39 L680.28 481.08 L683.29 478.77 L686.3 476.48 L689.31 474.18 L692.31 471.89 L695.32 469.61 L698.33 467.33 L701.34 465.05 L704.35 462.78 L707.36 460.53 L710.37 458.28 L713.38 456.04 L716.39 453.81 L719.4 451.58 L722.41 449.36 L725.42 447.15 L728.43 444.95 L731.44 442.75 L734.44 440.55 L737.45 438.36 L740.46 436.18 L743.47 433.99 L746.48 431.81 L749.49 429.63 L752.5 427.46 L755.51 425.28 L758.52 423.1 L761.53 420.93 L764.54 418.75 L767.55 416.57 L770.56 414.39 L773.56 412.21 L776.57 410.03 L779.58 407.85 L782.59 405.68 L785.6 403.51 L788.61 401.34 L791.62 399.17 L794.63 397 L797.64 394.83 L800.65 392.67 L803.66 390.51 L806.67 388.35 L809.68 386.19 L812.69 384.03 L815.69 381.88 L818.7 379.72 L821.71 377.57 L824.72 375.42 L827.73 373.27 L830.74 371.13 L833.75 368.98 L836.76 366.84 L839.77 364.7 L842.78 362.56 L845.79 360.42 L848.8 358.29 L851.81 356.17 L854.81 354.04 L857.82 351.92 L860.83 349.8 L863.84 347.68 L866.85 345.56 L869.86 343.45 L872.87 341.33 L875.88 339.22 L878.89 337.1 L881.9 334.98 L884.91 332.86 L887.92 330.74 L890.93 328.61 L893.94 326.49 L896.94 324.36 L899.95 322.23 L902.96 320.11 L905.97 317.98 L908.98 315.85 L911.99 313.73 L915 311.6" fill="none" stroke="#fda54b" stroke-width="3.5" stroke-linejoin="round"/>
<path d="M700.75 458.87 L706.5 468.76 L695 468.76 Z" fill="#fda54b"/>
<path d="M840.75 354.87 L846.5 364.76 L835 364.76 Z" fill="#fda54b"/>
</g>
</g>
<g>
<rect x="1215.7" y="15.5" width="784.2" height="631.8" fill="none" stroke="#000" stroke-width="3.1"/>
<path d="M1215.7 120.8h12M1215.7 226.1h12M1215.7 331.4h12M1215.7 436.7h12M1215.7 542h12" stroke="#000" stroke-width="3.1" fill="none"/>
<path d="M1215.7 68.15h6.3M1215.7 173.45h6.3M1215.7 278.75h6.3M1215.7 384.05h6.3M1215.7 489.35h6.3M1215.7 594.65h6.3" stroke="#000" stroke-width="3.1" fill="none"/>
<path d="M1411.75 647.3v-12M1607.8 647.3v-12M1803.85 647.3v-12" stroke="#000" stroke-width="3.1" fill="none"/>
<path d="M1313.73 647.3v-6.3M1509.78 647.3v-6.3M1705.83 647.3v-6.3M1901.88 647.3v-6.3" stroke="#000" stroke-width="3.1" fill="none"/>
<text x="1202.3" y="25.5" font-size="33" text-anchor="end" fill="#000">300</text>
<text x="1202.3" y="130.8" font-size="33" text-anchor="end" fill="#000">298</text>
<text x="1202.3" y="236.1" font-size="33" text-anchor="end" fill="#000">296</text>
<text x="1202.3" y="341.4" font-size="33" text-anchor="end" fill="#000">294</text>
<text x="1202.3" y="446.7" font-size="33" text-anchor="end" fill="#000">292</text>
<text x="1202.3" y="552" font-size="33" text-anchor="end" fill="#000">290</text>
<text x="1202.3" y="657.3" font-size="33" text-anchor="end" fill="#000">288</text>
<text x="1215.7" y="686.6" font-size="33" text-anchor="middle" fill="#000">0</text>
<text x="1411.75" y="686.6" font-size="33" text-anchor="middle" fill="#000">2</text>
<text x="1607.8" y="686.6" font-size="33" text-anchor="middle" fill="#000">4</text>
<text x="1803.85" y="686.6" font-size="33" text-anchor="middle" fill="#000">6</text>
<text x="1999.9" y="686.6" font-size="33" text-anchor="middle" fill="#000">8</text>
<text x="1610.5" y="736.3" font-size="35" text-anchor="middle" fill="#000" style="word-spacing:-1.7px">Time (h)</text>
<text transform="translate(1138.2 326.5) rotate(-90)" font-size="36" text-anchor="middle" style="word-spacing:0.3px">Temperature (K)</text>
<clipPath id="c3"><rect x="1215.6" y="15.5" width="784.4" height="632.4"/></clipPath>
<g clip-path="url(#c3)">
<path d="M1215.7 647.26 L1217.7 647.3 L1219.7 647.31 L1221.7 647.29 L1223.7 647.21 L1225.7 647.08 L1227.7 646.9 L1229.71 646.65 L1231.71 646.35 L1233.71 645.99 L1235.71 645.57 L1237.71 645.09 L1239.71 644.53 L1241.71 643.86 L1243.71 643.08 L1245.71 642.14 L1247.71 641.04 L1249.71 639.75 L1251.71 638.27 L1253.71 636.62 L1255.72 634.83 L1257.72 632.91 L1259.72 630.89 L1261.72 628.76 L1263.72 626.53 L1265.72 624.22 L1267.72 621.83 L1269.72 619.4 L1271.72 616.92 L1273.72 614.41 L1275.72 611.89 L1277.72 609.36 L1279.72 606.83 L1281.73 604.32 L1283.73 601.81 L1285.73 599.3 L1287.73 596.78 L1289.73 594.25 L1291.73 591.69 L1293.73 589.11 L1295.73 586.5 L1297.73 583.86 L1299.73 581.18 L1301.73 578.47 L1303.73 575.73 L1305.73 572.98 L1307.74 570.2 L1309.74 567.42 L1311.74 564.62 L1313.74 561.83 L1315.74 559.05 L1317.74 556.28 L1319.74 553.53 L1321.74 550.79 L1323.74 548.06 L1325.74 545.34 L1327.74 542.61 L1329.74 539.9 L1331.74 537.18 L1333.75 534.47 L1335.75 531.77 L1337.75 529.07 L1339.75 526.38 L1341.75 523.71 L1343.75 521.05 L1345.75 518.4 L1347.75 515.76 L1349.75 513.13 L1351.75 510.5 L1353.75 507.88 L1355.75 505.28 L1357.75 502.68 L1359.76 500.1 L1361.76 497.53 L1363.76 494.99 L1365.76 492.47 L1367.76 489.98 L1369.76 487.52 L1371.76 485.09 L1373.76 482.67 L1375.76 480.28 L1377.76 477.91 L1379.76 475.54 L1381.76 473.2 L1383.76 470.87 L1385.77 468.56 L1387.77 466.26 L1389.77 464 L1391.77 461.75 L1393.77 459.53 L1395.77 457.34 L1397.77 455.18 L1399.77 453.05 L1401.77 450.95 L1403.77 448.89 L1405.77 446.85 L1407.77 444.86 L1409.77 442.89 L1411.78 440.96 L1413.78 439.07 L1415.78 437.2 L1417.78 435.37 L1419.78 433.56 L1421.78 431.78 L1423.78 430.03 L1425.78 428.3 L1427.78 426.58 L1429.78 424.89 L1431.78 423.22 L1433.78 421.57 L1435.78 419.93 L1437.78 418.3 L1439.79 416.69 L1441.79 415.09 L1443.79 413.5 L1445.79 411.91 L1447.79 410.34 L1449.79 408.78 L1451.79 407.22 L1453.79 405.69 L1455.79 404.16 L1457.79 402.65 L1459.79 401.16 L1461.79 399.68 L1463.79 398.2 L1465.8 396.73 L1467.8 395.26 L1469.8 393.78 L1471.8 392.31 L1473.8 390.83 L1475.8 389.35 L1477.8 387.86 L1479.8 386.37 L1481.8 384.88 L1483.8 383.4 L1485.8 381.92 L1487.8 380.45 L1489.8 378.98 L1491.81 377.51 L1493.81 376.05 L1495.81 374.58 L1497.81 373.11 L1499.81 371.64 L1501.81 370.17 L1503.81 368.7 L1505.81 367.21 L1507.81 365.73 L1509.81 364.23 L1511.81 362.72 L1513.81 361.21 L1515.81 359.68 L1517.82 358.14 L1519.82 356.59 L1521.82 355.02 L1523.82 353.43 L1525.82 351.83 L1527.82 350.21 L1529.82 348.58 L1531.82 346.93 L1533.82 345.27 L1535.82 343.59 L1537.82 341.9 L1539.82 340.2 L1541.82 338.48 L1543.83 336.76 L1545.83 335.02 L1547.83 333.26 L1549.83 331.5 L1551.83 329.72 L1553.83 327.93 L1555.83 326.12 L1557.83 324.29 L1559.83 322.45 L1561.83 320.59 L1563.83 318.71 L1565.83 316.81 L1567.83 314.9 L1569.84 312.97 L1571.84 311.02 L1573.84 309.06 L1575.84 307.08 L1577.84 305.09 L1579.84 303.09 L1581.84 301.07 L1583.84 299.05 L1585.84 297.01 L1587.84 294.97 L1589.84 292.91 L1591.84 290.85 L1593.84 288.79 L1595.85 286.72 L1597.85 284.64 L1599.85 282.56 L1601.85 280.48 L1603.85 278.39 L1605.85 276.3 L1607.85 274.2 L1609.85 272.1 L1611.85 269.98 L1613.85 267.85 L1615.85 265.71 L1617.85 263.56 L1619.85 261.39 L1621.86 259.22 L1623.86 257.05 L1625.86 254.87 L1627.86 252.69 L1629.86 250.52 L1631.86 248.35 L1633.86 246.18 L1635.86 244.02 L1637.86 241.88 L1639.86 239.74 L1641.86 237.62 L1643.86 235.51 L1645.86 233.42 L1647.87 231.35 L1649.87 229.29 L1651.87 227.25 L1653.87 225.23 L1655.87 223.24 L1657.87 221.26 L1659.87 219.31 L1661.87 217.38 L1663.87 215.48 L1665.87 213.61 L1667.87 211.76 L1669.87 209.95 L1671.87 208.16 L1673.88 206.4 L1675.88 204.68 L1677.88 202.99 L1679.88 201.34 L1681.88 199.72 L1683.88 198.13 L1685.88 196.57 L1687.88 195.03 L1689.88 193.52 L1691.88 192.02 L1693.88 190.53 L1695.88 189.05 L1697.88 187.58 L1699.89 186.12 L1701.89 184.67 L1703.89 183.22 L1705.89 181.79 L1707.89 180.36 L1709.89 178.94 L1711.89 177.53 L1713.89 176.13 L1715.89 174.73 L1717.89 173.35 L1719.89 171.97 L1721.89 170.6 L1723.89 169.25 L1725.9 167.9 L1727.9 166.57 L1729.9 165.25 L1731.9 163.95 L1733.9 162.66 L1735.9 161.4 L1737.9 160.15 L1739.9 158.92 L1741.9 157.72 L1743.9 156.53 L1745.9 155.37 L1747.9 154.23 L1749.9 153.1 L1751.91 151.99 L1753.91 150.88 L1755.91 149.79 L1757.91 148.7 L1759.91 147.61 L1761.91 146.53 L1763.91 145.44 L1765.91 144.34 L1767.91 143.24 L1769.91 142.13 L1771.91 141.02 L1773.91 139.9 L1775.91 138.78 L1777.92 137.66 L1779.92 136.54 L1781.92 135.43 L1783.92 134.32 L1785.92 133.23 L1787.92 132.15 L1789.92 131.08 L1791.92 130.04 L1793.92 129.01 L1795.92 128.01 L1797.92 127.03 L1799.92 126.08 L1801.92 125.16 L1803.93 124.27 L1805.93 123.4 L1807.93 122.56 L1809.93 121.75 L1811.93 120.95 L1813.93 120.17 L1815.93 119.41 L1817.93 118.67 L1819.93 117.94 L1821.93 117.21 L1823.93 116.5 L1825.93 115.79 L1827.93 115.09 L1829.93 114.39 L1831.94 113.68 L1833.94 112.98 L1835.94 112.27 L1837.94 111.55 L1839.94 110.82 L1841.94 110.08 L1843.94 109.32 L1845.94 108.56 L1847.94 107.79 L1849.94 107.01 L1851.94 106.22 L1853.94 105.44 L1855.94 104.66 L1857.95 103.9 L1859.95 103.14 L1861.95 102.4 L1863.95 101.69 L1865.95 100.99 L1867.95 100.32 L1869.95 99.66 L1871.95 99.03 L1873.95 98.4 L1875.95 97.79 L1877.95 97.19 L1879.95 96.59 L1881.95 96.01 L1883.96 95.43 L1885.96 94.87 L1887.96 94.31 L1889.96 93.75 L1891.96 93.21 L1893.96 92.67 L1895.96 92.14 L1897.96 91.62 L1899.96 91.1 L1901.96 90.59 L1903.96 90.08 L1905.96 89.58 L1907.96 89.08 L1909.97 88.59 L1911.97 88.11 L1913.97 87.63 L1915.97 87.15 L1917.97 86.68 L1919.97 86.21 L1921.97 85.75 L1923.97 85.29 L1925.97 84.83 L1927.97 84.37 L1929.97 83.92 L1931.97 83.47 L1933.97 83.02 L1935.98 82.57 L1937.98 82.13 L1939.98 81.69 L1941.98 81.25 L1943.98 80.82 L1945.98 80.39 L1947.98 79.96 L1949.98 79.54 L1951.98 79.12 L1953.98 78.71 L1955.98 78.3 L1957.98 77.89 L1959.98 77.48 L1961.99 77.08 L1963.99 76.69 L1965.99 76.3 L1967.99 75.91 L1969.99 75.53 L1971.99 75.15 L1973.99 74.78 L1975.99 74.41 L1977.99 74.05 L1979.99 73.69 L1981.99 73.34 L1983.99 73 L1985.99 72.67 L1988 72.34 L1990 72.02 L1992 71.7 L1994 71.4 L1996 71.09 L1998 70.8 L2000 70.5" fill="none" stroke="#c90000" stroke-width="2.9" stroke-linejoin="round"/>
<rect x="1294.6" y="574.83" width="11.3" height="11.3" fill="#c90000"/>
<rect x="1379.1" y="464.08" width="11.3" height="11.3" fill="#c90000"/>
<rect x="1464.6" y="387.8" width="11.3" height="11.3" fill="#c90000"/>
<rect x="1549.6" y="321" width="11.3" height="11.3" fill="#c90000"/>
<rect x="1634.1" y="234.21" width="11.3" height="11.3" fill="#c90000"/>
<rect x="1719.6" y="162.68" width="11.3" height="11.3" fill="#c90000"/>
<rect x="1803.6" y="116.37" width="11.3" height="11.3" fill="#c90000"/>
<rect x="1889.1" y="86.81" width="11.3" height="11.3" fill="#c90000"/>
<rect x="1974.1" y="68.08" width="11.3" height="11.3" fill="#c90000"/>
<rect x="1994.35" y="64.85" width="11.3" height="11.3" fill="#c90000"/>
<path d="M1215.7 647.48 L1217.7 647.55 L1219.7 647.6 L1221.7 647.63 L1223.7 647.66 L1225.7 647.68 L1227.7 647.68 L1229.71 647.67 L1231.71 647.63 L1233.71 647.57 L1235.71 647.48 L1237.71 647.32 L1239.71 647.09 L1241.71 646.74 L1243.71 646.24 L1245.71 645.57 L1247.71 644.7 L1249.71 643.62 L1251.71 642.33 L1253.71 640.87 L1255.72 639.26 L1257.72 637.54 L1259.72 635.74 L1261.72 633.85 L1263.72 631.9 L1265.72 629.9 L1267.72 627.85 L1269.72 625.78 L1271.72 623.68 L1273.72 621.55 L1275.72 619.4 L1277.72 617.22 L1279.72 615.01 L1281.73 612.78 L1283.73 610.52 L1285.73 608.23 L1287.73 605.91 L1289.73 603.55 L1291.73 601.15 L1293.73 598.69 L1295.73 596.18 L1297.73 593.61 L1299.73 590.98 L1301.73 588.31 L1303.73 585.6 L1305.73 582.86 L1307.74 580.09 L1309.74 577.31 L1311.74 574.52 L1313.74 571.73 L1315.74 568.94 L1317.74 566.17 L1319.74 563.42 L1321.74 560.68 L1323.74 557.94 L1325.74 555.21 L1327.74 552.49 L1329.74 549.77 L1331.74 547.05 L1333.75 544.34 L1335.75 541.63 L1337.75 538.93 L1339.75 536.24 L1341.75 533.56 L1343.75 530.89 L1345.75 528.24 L1347.75 525.59 L1349.75 522.96 L1351.75 520.32 L1353.75 517.7 L1355.75 515.09 L1357.75 512.48 L1359.76 509.89 L1361.76 507.32 L1363.76 504.77 L1365.76 502.25 L1367.76 499.75 L1369.76 497.28 L1371.76 494.84 L1373.76 492.42 L1375.76 490.02 L1377.76 487.63 L1379.76 485.26 L1381.76 482.91 L1383.76 480.56 L1385.77 478.23 L1387.77 475.92 L1389.77 473.63 L1391.77 471.35 L1393.77 469.1 L1395.77 466.87 L1397.77 464.66 L1399.77 462.48 L1401.77 460.32 L1403.77 458.2 L1405.77 456.1 L1407.77 454.03 L1409.77 451.99 L1411.78 449.98 L1413.78 448.01 L1415.78 446.06 L1417.78 444.14 L1419.78 442.24 L1421.78 440.37 L1423.78 438.52 L1425.78 436.69 L1427.78 434.89 L1429.78 433.1 L1431.78 431.33 L1433.78 429.57 L1435.78 427.84 L1437.78 426.11 L1439.79 424.4 L1441.79 422.71 L1443.79 421.02 L1445.79 419.34 L1447.79 417.68 L1449.79 416.02 L1451.79 414.38 L1453.79 412.76 L1455.79 411.15 L1457.79 409.57 L1459.79 408 L1461.79 406.44 L1463.79 404.9 L1465.8 403.36 L1467.8 401.83 L1469.8 400.3 L1471.8 398.77 L1473.8 397.24 L1475.8 395.7 L1477.8 394.16 L1479.8 392.62 L1481.8 391.08 L1483.8 389.54 L1485.8 388.01 L1487.8 386.49 L1489.8 384.97 L1491.81 383.45 L1493.81 381.93 L1495.81 380.41 L1497.81 378.9 L1499.81 377.38 L1501.81 375.86 L1503.81 374.33 L1505.81 372.8 L1507.81 371.27 L1509.81 369.73 L1511.81 368.18 L1513.81 366.62 L1515.81 365.05 L1517.82 363.47 L1519.82 361.87 L1521.82 360.27 L1523.82 358.65 L1525.82 357.01 L1527.82 355.36 L1529.82 353.7 L1531.82 352.02 L1533.82 350.33 L1535.82 348.62 L1537.82 346.91 L1539.82 345.19 L1541.82 343.45 L1543.83 341.71 L1545.83 339.96 L1547.83 338.2 L1549.83 336.43 L1551.83 334.65 L1553.83 332.86 L1555.83 331.06 L1557.83 329.26 L1559.83 327.44 L1561.83 325.62 L1563.83 323.79 L1565.83 321.96 L1567.83 320.12 L1569.84 318.27 L1571.84 316.41 L1573.84 314.55 L1575.84 312.68 L1577.84 310.8 L1579.84 308.92 L1581.84 307.04 L1583.84 305.14 L1585.84 303.25 L1587.84 301.34 L1589.84 299.44 L1591.84 297.53 L1593.84 295.61 L1595.85 293.69 L1597.85 291.77 L1599.85 289.84 L1601.85 287.91 L1603.85 285.97 L1605.85 284.03 L1607.85 282.08 L1609.85 280.11 L1611.85 278.13 L1613.85 276.13 L1615.85 274.12 L1617.85 272.08 L1619.85 270.03 L1621.86 267.97 L1623.86 265.89 L1625.86 263.8 L1627.86 261.7 L1629.86 259.59 L1631.86 257.48 L1633.86 255.36 L1635.86 253.24 L1637.86 251.11 L1639.86 248.99 L1641.86 246.86 L1643.86 244.74 L1645.86 242.63 L1647.87 240.52 L1649.87 238.42 L1651.87 236.33 L1653.87 234.25 L1655.87 232.18 L1657.87 230.12 L1659.87 228.09 L1661.87 226.07 L1663.87 224.06 L1665.87 222.09 L1667.87 220.13 L1669.87 218.19 L1671.87 216.29 L1673.88 214.41 L1675.88 212.55 L1677.88 210.73 L1679.88 208.94 L1681.88 207.18 L1683.88 205.45 L1685.88 203.75 L1687.88 202.07 L1689.88 200.41 L1691.88 198.77 L1693.88 197.14 L1695.88 195.51 L1697.88 193.9 L1699.89 192.3 L1701.89 190.71 L1703.89 189.13 L1705.89 187.56 L1707.89 186 L1709.89 184.46 L1711.89 182.92 L1713.89 181.4 L1715.89 179.9 L1717.89 178.4 L1719.89 176.93 L1721.89 175.46 L1723.89 174.01 L1725.9 172.58 L1727.9 171.16 L1729.9 169.75 L1731.9 168.36 L1733.9 166.99 L1735.9 165.64 L1737.9 164.31 L1739.9 163 L1741.9 161.71 L1743.9 160.44 L1745.9 159.2 L1747.9 157.97 L1749.9 156.76 L1751.91 155.56 L1753.91 154.38 L1755.91 153.2 L1757.91 152.03 L1759.91 150.86 L1761.91 149.7 L1763.91 148.53 L1765.91 147.36 L1767.91 146.19 L1769.91 145.01 L1771.91 143.82 L1773.91 142.64 L1775.91 141.45 L1777.92 140.26 L1779.92 139.09 L1781.92 137.92 L1783.92 136.76 L1785.92 135.61 L1787.92 134.48 L1789.92 133.37 L1791.92 132.28 L1793.92 131.21 L1795.92 130.17 L1797.92 129.16 L1799.92 128.18 L1801.92 127.24 L1803.93 126.32 L1805.93 125.44 L1807.93 124.58 L1809.93 123.75 L1811.93 122.94 L1813.93 122.16 L1815.93 121.39 L1817.93 120.64 L1819.93 119.9 L1821.93 119.17 L1823.93 118.45 L1825.93 117.73 L1827.93 117.02 L1829.93 116.32 L1831.94 115.61 L1833.94 114.9 L1835.94 114.18 L1837.94 113.46 L1839.94 112.72 L1841.94 111.98 L1843.94 111.22 L1845.94 110.45 L1847.94 109.68 L1849.94 108.89 L1851.94 108.11 L1853.94 107.32 L1855.94 106.54 L1857.95 105.77 L1859.95 105.01 L1861.95 104.27 L1863.95 103.55 L1865.95 102.85 L1867.95 102.17 L1869.95 101.52 L1871.95 100.88 L1873.95 100.25 L1875.95 99.63 L1877.95 99.03 L1879.95 98.43 L1881.95 97.84 L1883.96 97.26 L1885.96 96.69 L1887.96 96.12 L1889.96 95.57 L1891.96 95.02 L1893.96 94.47 L1895.96 93.94 L1897.96 93.41 L1899.96 92.89 L1901.96 92.37 L1903.96 91.86 L1905.96 91.35 L1907.96 90.85 L1909.97 90.36 L1911.97 89.87 L1913.97 89.38 L1915.97 88.9 L1917.97 88.42 L1919.97 87.95 L1921.97 87.48 L1923.97 87.01 L1925.97 86.55 L1927.97 86.09 L1929.97 85.63 L1931.97 85.17 L1933.97 84.72 L1935.98 84.27 L1937.98 83.82 L1939.98 83.37 L1941.98 82.93 L1943.98 82.49 L1945.98 82.05 L1947.98 81.62 L1949.98 81.19 L1951.98 80.76 L1953.98 80.34 L1955.98 79.92 L1957.98 79.5 L1959.98 79.09 L1961.99 78.68 L1963.99 78.28 L1965.99 77.88 L1967.99 77.48 L1969.99 77.08 L1971.99 76.69 L1973.99 76.31 L1975.99 75.93 L1977.99 75.55 L1979.99 75.18 L1981.99 74.81 L1983.99 74.45 L1985.99 74.09 L1988 73.73 L1990 73.38 L1992 73.04 L1994 72.7 L1996 72.36 L1998 72.03 L2000 71.7" fill="none" stroke="#4596c8" stroke-width="2.6" stroke-linejoin="round"/>
<circle cx="1215.7" cy="647.28" r="6.65" fill="#4596c8"/>
<circle cx="1294.4" cy="597.65" r="6.65" fill="#4596c8"/>
<circle cx="1372.8" cy="493.38" r="6.65" fill="#4596c8"/>
<circle cx="1451.2" cy="414.66" r="6.65" fill="#4596c8"/>
<circle cx="1529.6" cy="353.68" r="6.65" fill="#4596c8"/>
<circle cx="1608" cy="281.73" r="6.65" fill="#4596c8"/>
<circle cx="1686.4" cy="203.11" r="6.65" fill="#4596c8"/>
<circle cx="1764.8" cy="147.81" r="6.65" fill="#4596c8"/>
<circle cx="1843.2" cy="111.3" r="6.65" fill="#4596c8"/>
<circle cx="1921.6" cy="87.37" r="6.65" fill="#4596c8"/>
<circle cx="2000" cy="71.5" r="6.65" fill="#4596c8"/>
<path d="M1215.7 647.28 L1217.7 647.35 L1219.7 647.4 L1221.7 647.43 L1223.7 647.46 L1225.7 647.48 L1227.7 647.48 L1229.71 647.47 L1231.71 647.43 L1233.71 647.37 L1235.71 647.28 L1237.71 647.12 L1239.71 646.89 L1241.71 646.54 L1243.71 646.04 L1245.71 645.37 L1247.71 644.5 L1249.71 643.42 L1251.71 642.13 L1253.71 640.67 L1255.72 639.06 L1257.72 637.34 L1259.72 635.54 L1261.72 633.65 L1263.72 631.7 L1265.72 629.7 L1267.72 627.65 L1269.72 625.58 L1271.72 623.48 L1273.72 621.35 L1275.72 619.2 L1277.72 617.02 L1279.72 614.81 L1281.73 612.58 L1283.73 610.32 L1285.73 608.03 L1287.73 605.71 L1289.73 603.35 L1291.73 600.95 L1293.73 598.49 L1295.73 595.98 L1297.73 593.41 L1299.73 590.78 L1301.73 588.11 L1303.73 585.4 L1305.73 582.66 L1307.74 579.89 L1309.74 577.11 L1311.74 574.32 L1313.74 571.53 L1315.74 568.74 L1317.74 565.97 L1319.74 563.22 L1321.74 560.48 L1323.74 557.74 L1325.74 555.01 L1327.74 552.29 L1329.74 549.57 L1331.74 546.85 L1333.75 544.14 L1335.75 541.43 L1337.75 538.73 L1339.75 536.04 L1341.75 533.36 L1343.75 530.69 L1345.75 528.04 L1347.75 525.39 L1349.75 522.76 L1351.75 520.12 L1353.75 517.5 L1355.75 514.89 L1357.75 512.28 L1359.76 509.69 L1361.76 507.12 L1363.76 504.57 L1365.76 502.05 L1367.76 499.55 L1369.76 497.08 L1371.76 494.64 L1373.76 492.22 L1375.76 489.82 L1377.76 487.43 L1379.76 485.06 L1381.76 482.71 L1383.76 480.36 L1385.77 478.03 L1387.77 475.72 L1389.77 473.43 L1391.77 471.15 L1393.77 468.9 L1395.77 466.67 L1397.77 464.46 L1399.77 462.28 L1401.77 460.12 L1403.77 458 L1405.77 455.9 L1407.77 453.83 L1409.77 451.79 L1411.78 449.78 L1413.78 447.81 L1415.78 445.86 L1417.78 443.94 L1419.78 442.04 L1421.78 440.17 L1423.78 438.32 L1425.78 436.49 L1427.78 434.69 L1429.78 432.9 L1431.78 431.13 L1433.78 429.37 L1435.78 427.64 L1437.78 425.91 L1439.79 424.2 L1441.79 422.51 L1443.79 420.82 L1445.79 419.14 L1447.79 417.48 L1449.79 415.82 L1451.79 414.18 L1453.79 412.56 L1455.79 410.95 L1457.79 409.37 L1459.79 407.8 L1461.79 406.24 L1463.79 404.7 L1465.8 403.16 L1467.8 401.63 L1469.8 400.1 L1471.8 398.57 L1473.8 397.04 L1475.8 395.5 L1477.8 393.96 L1479.8 392.42 L1481.8 390.88 L1483.8 389.34 L1485.8 387.81 L1487.8 386.29 L1489.8 384.77 L1491.81 383.25 L1493.81 381.73 L1495.81 380.21 L1497.81 378.7 L1499.81 377.18 L1501.81 375.66 L1503.81 374.13 L1505.81 372.6 L1507.81 371.07 L1509.81 369.53 L1511.81 367.98 L1513.81 366.42 L1515.81 364.85 L1517.82 363.27 L1519.82 361.67 L1521.82 360.07 L1523.82 358.45 L1525.82 356.81 L1527.82 355.16 L1529.82 353.5 L1531.82 351.82 L1533.82 350.13 L1535.82 348.42 L1537.82 346.71 L1539.82 344.99 L1541.82 343.25 L1543.83 341.51 L1545.83 339.76 L1547.83 338 L1549.83 336.23 L1551.83 334.45 L1553.83 332.66 L1555.83 330.86 L1557.83 329.06 L1559.83 327.24 L1561.83 325.42 L1563.83 323.59 L1565.83 321.76 L1567.83 319.92 L1569.84 318.07 L1571.84 316.21 L1573.84 314.35 L1575.84 312.48 L1577.84 310.6 L1579.84 308.72 L1581.84 306.84 L1583.84 304.94 L1585.84 303.05 L1587.84 301.14 L1589.84 299.24 L1591.84 297.33 L1593.84 295.41 L1595.85 293.49 L1597.85 291.57 L1599.85 289.64 L1601.85 287.71 L1603.85 285.77 L1605.85 283.83 L1607.85 281.88 L1609.85 279.91 L1611.85 277.93 L1613.85 275.93 L1615.85 273.92 L1617.85 271.88 L1619.85 269.83 L1621.86 267.77 L1623.86 265.69 L1625.86 263.6 L1627.86 261.5 L1629.86 259.39 L1631.86 257.28 L1633.86 255.16 L1635.86 253.04 L1637.86 250.91 L1639.86 248.79 L1641.86 246.66 L1643.86 244.54 L1645.86 242.43 L1647.87 240.32 L1649.87 238.22 L1651.87 236.13 L1653.87 234.05 L1655.87 231.98 L1657.87 229.92 L1659.87 227.89 L1661.87 225.87 L1663.87 223.86 L1665.87 221.89 L1667.87 219.93 L1669.87 217.99 L1671.87 216.09 L1673.88 214.21 L1675.88 212.35 L1677.88 210.53 L1679.88 208.74 L1681.88 206.98 L1683.88 205.25 L1685.88 203.55 L1687.88 201.87 L1689.88 200.21 L1691.88 198.57 L1693.88 196.94 L1695.88 195.31 L1697.88 193.7 L1699.89 192.1 L1701.89 190.51 L1703.89 188.93 L1705.89 187.36 L1707.89 185.8 L1709.89 184.26 L1711.89 182.72 L1713.89 181.2 L1715.89 179.7 L1717.89 178.2 L1719.89 176.73 L1721.89 175.26 L1723.89 173.81 L1725.9 172.38 L1727.9 170.96 L1729.9 169.55 L1731.9 168.16 L1733.9 166.79 L1735.9 165.44 L1737.9 164.11 L1739.9 162.8 L1741.9 161.51 L1743.9 160.24 L1745.9 159 L1747.9 157.77 L1749.9 156.56 L1751.91 155.36 L1753.91 154.18 L1755.91 153 L1757.91 151.83 L1759.91 150.66 L1761.91 149.5 L1763.91 148.33 L1765.91 147.16 L1767.91 145.99 L1769.91 144.81 L1771.91 143.62 L1773.91 142.44 L1775.91 141.25 L1777.92 140.06 L1779.92 138.89 L1781.92 137.72 L1783.92 136.56 L1785.92 135.41 L1787.92 134.28 L1789.92 133.17 L1791.92 132.08 L1793.92 131.01 L1795.92 129.97 L1797.92 128.96 L1799.92 127.98 L1801.92 127.04 L1803.93 126.12 L1805.93 125.24 L1807.93 124.38 L1809.93 123.55 L1811.93 122.74 L1813.93 121.96 L1815.93 121.19 L1817.93 120.44 L1819.93 119.7 L1821.93 118.97 L1823.93 118.25 L1825.93 117.53 L1827.93 116.82 L1829.93 116.12 L1831.94 115.41 L1833.94 114.7 L1835.94 113.98 L1837.94 113.26 L1839.94 112.52 L1841.94 111.78 L1843.94 111.02 L1845.94 110.25 L1847.94 109.48 L1849.94 108.69 L1851.94 107.91 L1853.94 107.12 L1855.94 106.34 L1857.95 105.57 L1859.95 104.81 L1861.95 104.07 L1863.95 103.35 L1865.95 102.65 L1867.95 101.97 L1869.95 101.32 L1871.95 100.68 L1873.95 100.05 L1875.95 99.43 L1877.95 98.83 L1879.95 98.23 L1881.95 97.64 L1883.96 97.06 L1885.96 96.49 L1887.96 95.92 L1889.96 95.37 L1891.96 94.82 L1893.96 94.27 L1895.96 93.74 L1897.96 93.21 L1899.96 92.69 L1901.96 92.17 L1903.96 91.66 L1905.96 91.15 L1907.96 90.65 L1909.97 90.16 L1911.97 89.67 L1913.97 89.18 L1915.97 88.7 L1917.97 88.22 L1919.97 87.75 L1921.97 87.28 L1923.97 86.81 L1925.97 86.35 L1927.97 85.89 L1929.97 85.43 L1931.97 84.97 L1933.97 84.52 L1935.98 84.07 L1937.98 83.62 L1939.98 83.17 L1941.98 82.73 L1943.98 82.29 L1945.98 81.85 L1947.98 81.42 L1949.98 80.99 L1951.98 80.56 L1953.98 80.14 L1955.98 79.72 L1957.98 79.3 L1959.98 78.89 L1961.99 78.48 L1963.99 78.08 L1965.99 77.68 L1967.99 77.28 L1969.99 76.88 L1971.99 76.49 L1973.99 76.11 L1975.99 75.73 L1977.99 75.35 L1979.99 74.98 L1981.99 74.61 L1983.99 74.25 L1985.99 73.89 L1988 73.53 L1990 73.18 L1992 72.84 L1994 72.5 L1996 72.16 L1998 71.83 L2000 71.5" fill="none" stroke="#fda54b" stroke-width="2.9" stroke-linejoin="round"/>
<path d="M1215.7 639.48 L1223.45 652.88 L1207.95 652.88 Z" fill="#fda54b"/>
<path d="M1281.3 605.25 L1289.05 618.65 L1273.55 618.65 Z" fill="#fda54b"/>
<path d="M1346.7 518.97 L1354.45 532.37 L1338.95 532.37 Z" fill="#fda54b"/>
<path d="M1412 441.75 L1419.75 455.15 L1404.25 455.15 Z" fill="#fda54b"/>
<path d="M1477.3 386.54 L1485.05 399.94 L1469.55 399.94 Z" fill="#fda54b"/>
<path d="M1542.7 334.69 L1550.45 348.09 L1534.95 348.09 Z" fill="#fda54b"/>
<path d="M1608 273.92 L1615.75 287.32 L1600.25 287.32 Z" fill="#fda54b"/>
<path d="M1673.3 206.94 L1681.05 220.34 L1665.55 220.34 Z" fill="#fda54b"/>
<path d="M1738.7 155.78 L1746.45 169.18 L1730.95 169.18 Z" fill="#fda54b"/>
<path d="M1804 118.28 L1811.75 131.68 L1796.25 131.68 Z" fill="#fda54b"/>
<path d="M1869.3 93.72 L1877.05 107.12 L1861.55 107.12 Z" fill="#fda54b"/>
<path d="M1934.7 76.54 L1942.45 89.94 L1926.95 89.94 Z" fill="#fda54b"/>
<path d="M2000 63.7 L2007.75 77.1 L1992.25 77.1 Z" fill="#fda54b"/>
</g>
</g>
<text x="1042" y="44.2" font-size="59.5" text-anchor="start" fill="#d42a2a" letter-spacing="3.4">(b)</text>
<rect x="1264.6" y="48.9" width="100" height="114.6" fill="#fff" stroke="#000" stroke-width="1"/>
<path d="M1265.1 48.9H1364.1" stroke="#c8c8c8" stroke-width="1.2"/>
<path d="M1268.8 69.9H1308.4" stroke="#c90000" stroke-width="3.3" stroke-linecap="round"/>
<rect x="1282.2" y="63.6" width="11.8" height="11.8" fill="#c90000"/>
<text x="1316.3" y="79.5" font-size="30" text-anchor="start" fill="#000" style="word-spacing:-3.6px">20 s</text>
<path d="M1268.8 106.5H1308.4" stroke="#4596c8" stroke-width="3.3" stroke-linecap="round"/>
<circle cx="1288.6" cy="106.5" r="6.55" fill="#4596c8"/>
<text x="1316.3" y="116.1" font-size="30" text-anchor="start" fill="#000" style="word-spacing:-3.6px">10 s</text>
<path d="M1268.8 143.2H1308.4" stroke="#fda54b" stroke-width="3.3" stroke-linecap="round"/>
<path d="M1288.9 134.99 L1296.8 148.39 L1281 148.39 Z" fill="#fda54b"/>
<text x="1316.3" y="152.8" font-size="30" text-anchor="start" fill="#000" style="word-spacing:-3.6px">5 s</text>
<rect x="1695.4" y="111.4" width="119" height="86.2" fill="#bebebe" stroke="#ff0000" stroke-width="1.1" opacity="0.5"/>
<g>
<rect x="1636.25" y="330.5" width="316.5" height="236.75" fill="none" stroke="#000" stroke-width="2.2"/>
<path d="M1636.25 389.69h4.6M1636.25 448.88h4.6M1636.25 508.06h4.6" stroke="#000" stroke-width="2.2" fill="none"/>
<path d="M1636.25 360.09h2.6M1636.25 419.28h2.6M1636.25 478.47h2.6M1636.25 537.66h2.6" stroke="#000" stroke-width="1.6" fill="none"/>
<path d="M1741.75 567.25v-4.6M1847.25 567.25v-4.6" stroke="#000" stroke-width="2.2" fill="none"/>
<path d="M1689 567.25v-2.6M1794.5 567.25v-2.6M1900 567.25v-2.6" stroke="#000" stroke-width="1.6" fill="none"/>
<text x="1630.25" y="336.3" font-size="19" text-anchor="end" fill="#000">297.6</text>
<text x="1630.25" y="395.49" font-size="19" text-anchor="end" fill="#000">297.5</text>
<text x="1630.25" y="454.68" font-size="19" text-anchor="end" fill="#000">297.4</text>
<text x="1630.25" y="513.86" font-size="19" text-anchor="end" fill="#000">297.3</text>
<text x="1630.25" y="573.05" font-size="19" text-anchor="end" fill="#000">297.2</text>
<text x="1636.25" y="586.55" font-size="19" text-anchor="middle" fill="#000">5.4</text>
<text x="1741.75" y="586.55" font-size="19" text-anchor="middle" fill="#000">5.5</text>
<text x="1847.25" y="586.55" font-size="19" text-anchor="middle" fill="#000">5.6</text>
<text x="1952.75" y="586.55" font-size="19" text-anchor="middle" fill="#000">5.7</text>
<text x="1798" y="606.65" font-size="19.2" text-anchor="middle" fill="#000" style="word-spacing:-1.2px">Time (h)</text>
<text transform="translate(1580.3 446.2) rotate(-90)" font-size="19.2" text-anchor="middle" style="word-spacing:-1.2px">Temperature (K)</text>
<clipPath id="c4"><rect x="1636.25" y="330.5" width="316.5" height="236.75"/></clipPath>
<g clip-path="url(#c4)">
<path d="M1630 488.2 L1633.01 486.3 L1636.02 484.39 L1639.03 482.49 L1642.04 480.57 L1645.05 478.66 L1648.06 476.74 L1651.08 474.82 L1654.09 472.89 L1657.1 470.96 L1660.11 469.04 L1663.12 467.11 L1666.13 465.18 L1669.14 463.26 L1672.15 461.33 L1675.16 459.41 L1678.17 457.49 L1681.18 455.58 L1684.19 453.66 L1687.2 451.76 L1690.22 449.86 L1693.23 447.96 L1696.24 446.07 L1699.25 444.19 L1702.26 442.32 L1705.27 440.45 L1708.28 438.6 L1711.29 436.74 L1714.3 434.9 L1717.31 433.06 L1720.32 431.23 L1723.33 429.4 L1726.34 427.58 L1729.35 425.76 L1732.37 423.94 L1735.38 422.13 L1738.39 420.32 L1741.4 418.52 L1744.41 416.72 L1747.42 414.92 L1750.43 413.13 L1753.44 411.33 L1756.45 409.54 L1759.46 407.75 L1762.47 405.97 L1765.48 404.18 L1768.49 402.39 L1771.51 400.61 L1774.52 398.82 L1777.53 397.04 L1780.54 395.25 L1783.55 393.47 L1786.56 391.68 L1789.57 389.89 L1792.58 388.1 L1795.59 386.31 L1798.6 384.52 L1801.61 382.74 L1804.62 380.95 L1807.63 379.17 L1810.65 377.4 L1813.66 375.62 L1816.67 373.85 L1819.68 372.09 L1822.69 370.33 L1825.7 368.58 L1828.71 366.83 L1831.72 365.09 L1834.73 363.36 L1837.74 361.64 L1840.75 359.92 L1843.76 358.21 L1846.77 356.52 L1849.78 354.83 L1852.8 353.17 L1855.81 351.51 L1858.82 349.87 L1861.83 348.24 L1864.84 346.62 L1867.85 345 L1870.86 343.39 L1873.87 341.78 L1876.88 340.17 L1879.89 338.55 L1882.9 336.94 L1885.91 335.32 L1888.92 333.69 L1891.94 332.04 L1894.95 330.39 L1897.96 328.73 L1900.97 327.05 L1903.98 325.37 L1906.99 323.69 L1910 322" fill="none" stroke="#c90000" stroke-width="3.5" stroke-linejoin="round"/>
<rect x="1631.5" y="479.5" width="9.5" height="9.5" fill="#c90000"/>
<rect x="1701.25" y="435.25" width="9.5" height="9.5" fill="#c90000"/>
<rect x="1772" y="392.75" width="9.5" height="9.5" fill="#c90000"/>
<rect x="1842.5" y="351.5" width="9.5" height="9.5" fill="#c90000"/>
<path d="M1630 533.2 L1633 531.31 L1636 529.41 L1639 527.5 L1642 525.58 L1645 523.65 L1648 521.72 L1651 519.78 L1654 517.84 L1657 515.89 L1660 513.94 L1663 511.99 L1666 510.04 L1669 508.09 L1672 506.14 L1675 504.18 L1678 502.23 L1681 500.29 L1684 498.34 L1687 496.4 L1690 494.47 L1693 492.54 L1696 490.61 L1699 488.69 L1702 486.78 L1705 484.88 L1708 482.99 L1711 481.1 L1714 479.22 L1717 477.34 L1720 475.47 L1723 473.6 L1726 471.74 L1729 469.88 L1732 468.02 L1735 466.17 L1738 464.32 L1741 462.47 L1744 460.63 L1747 458.78 L1750 456.94 L1753 455.1 L1756 453.25 L1759 451.41 L1762 449.57 L1765 447.73 L1768 445.88 L1771 444.04 L1774 442.19 L1777 440.35 L1780 438.5 L1783 436.64 L1786 434.79 L1789 432.93 L1792 431.07 L1795 429.22 L1798 427.36 L1801 425.5 L1804 423.64 L1807 421.79 L1810 419.93 L1813 418.08 L1816 416.23 L1819 414.38 L1822 412.54 L1825 410.7 L1828 408.86 L1831 407.03 L1834 405.2 L1837 403.38 L1840 401.56 L1843 399.75 L1846 397.95 L1849 396.15 L1852 394.35 L1855 392.56 L1858 390.76 L1861 388.97 L1864 387.17 L1867 385.38 L1870 383.6 L1873 381.82 L1876 380.04 L1879 378.26 L1882 376.49 L1885 374.73 L1888 372.97 L1891 371.22 L1894 369.48 L1897 367.74 L1900 366.01 L1903 364.29 L1906 362.58 L1909 360.88 L1912 359.19 L1915 357.5 L1918 355.83 L1921 354.18 L1924 352.54 L1927 350.92 L1930 349.32 L1933 347.72 L1936 346.13 L1939 344.54 L1942 342.96 L1945 341.38 L1948 339.79 L1951 338.2 L1954 336.6 L1957 335 L1960 333.4" fill="none" stroke="#4596c8" stroke-width="3.5" stroke-linejoin="round"/>
<circle cx="1636.25" cy="529.25" r="5.75" fill="#4596c8"/>
<circle cx="1706" cy="484.25" r="5.75" fill="#4596c8"/>
<circle cx="1776.75" cy="440.5" r="5.75" fill="#4596c8"/>
<circle cx="1846.75" cy="397.5" r="5.75" fill="#4596c8"/>
<circle cx="1917.25" cy="356.25" r="5.75" fill="#4596c8"/>
<path d="M1630 539.8 L1633 537.91 L1636 536.01 L1639 534.1 L1642 532.18 L1645 530.25 L1648 528.32 L1651 526.38 L1654 524.44 L1657 522.49 L1660 520.54 L1663 518.59 L1666 516.64 L1669 514.69 L1672 512.74 L1675 510.78 L1678 508.83 L1681 506.89 L1684 504.94 L1687 503 L1690 501.07 L1693 499.14 L1696 497.21 L1699 495.29 L1702 493.38 L1705 491.48 L1708 489.59 L1711 487.7 L1714 485.82 L1717 483.94 L1720 482.07 L1723 480.2 L1726 478.34 L1729 476.48 L1732 474.62 L1735 472.77 L1738 470.92 L1741 469.07 L1744 467.23 L1747 465.38 L1750 463.54 L1753 461.7 L1756 459.85 L1759 458.01 L1762 456.17 L1765 454.33 L1768 452.48 L1771 450.64 L1774 448.79 L1777 446.95 L1780 445.1 L1783 443.24 L1786 441.39 L1789 439.53 L1792 437.67 L1795 435.82 L1798 433.96 L1801 432.1 L1804 430.24 L1807 428.39 L1810 426.53 L1813 424.68 L1816 422.83 L1819 420.98 L1822 419.14 L1825 417.3 L1828 415.46 L1831 413.63 L1834 411.8 L1837 409.98 L1840 408.16 L1843 406.35 L1846 404.55 L1849 402.75 L1852 400.95 L1855 399.16 L1858 397.36 L1861 395.57 L1864 393.77 L1867 391.98 L1870 390.2 L1873 388.42 L1876 386.64 L1879 384.86 L1882 383.09 L1885 381.33 L1888 379.57 L1891 377.82 L1894 376.08 L1897 374.34 L1900 372.61 L1903 370.89 L1906 369.18 L1909 367.48 L1912 365.79 L1915 364.1 L1918 362.43 L1921 360.78 L1924 359.14 L1927 357.52 L1930 355.92 L1933 354.32 L1936 352.73 L1939 351.14 L1942 349.56 L1945 347.98 L1948 346.39 L1951 344.8 L1954 343.2 L1957 341.6 L1960 340" fill="none" stroke="#fda54b" stroke-width="3.5" stroke-linejoin="round"/>
<path d="M1636.25 530.37 L1642 540.26 L1630.5 540.26 Z" fill="#fda54b"/>
<path d="M1706 484.67 L1711.75 494.56 L1700.25 494.56 Z" fill="#fda54b"/>
<path d="M1776.75 440.87 L1782.5 450.76 L1771 450.76 Z" fill="#fda54b"/>
<path d="M1846.75 398.07 L1852.5 407.96 L1841 407.96 Z" fill="#fda54b"/>
<path d="M1917.25 356.67 L1923 366.56 L1911.5 366.56 Z" fill="#fda54b"/>
</g>
</g>
<g>
<path d="M171.6 971.6h12M171.6 1129.5h12M171.6 1287.4h12" stroke="#000" stroke-width="3.1" fill="none"/>
<path d="M171.6 892.65h6.3M171.6 1050.55h6.3M171.6 1208.45h6.3M171.6 1366.35h6.3" stroke="#000" stroke-width="3.1" fill="none"/>
<path d="M283.64 1445.3v-12M395.69 1445.3v-12M507.73 1445.3v-12M619.77 1445.3v-12M731.81 1445.3v-12M843.86 1445.3v-12" stroke="#000" stroke-width="3.1" fill="none"/>
<path d="M227.62 1445.3v-6.3M339.66 1445.3v-6.3M451.71 1445.3v-6.3M563.75 1445.3v-6.3M675.79 1445.3v-6.3M787.84 1445.3v-6.3M899.88 1445.3v-6.3" stroke="#000" stroke-width="3.1" fill="none"/>
<text x="158.2" y="823.7" font-size="33" text-anchor="end" fill="#000">300</text>
<text x="158.2" y="981.6" font-size="33" text-anchor="end" fill="#000">296</text>
<text x="158.2" y="1139.5" font-size="33" text-anchor="end" fill="#000">292</text>
<text x="158.2" y="1297.4" font-size="33" text-anchor="end" fill="#000">288</text>
<text x="158.2" y="1455.3" font-size="33" text-anchor="end" fill="#000">284</text>
<text x="171.6" y="1484.6" font-size="33" text-anchor="middle" fill="#000">0</text>
<text x="283.64" y="1484.6" font-size="33" text-anchor="middle" fill="#000">30</text>
<text x="395.69" y="1484.6" font-size="33" text-anchor="middle" fill="#000">60</text>
<text x="507.73" y="1484.6" font-size="33" text-anchor="middle" fill="#000">90</text>
<text x="619.77" y="1484.6" font-size="33" text-anchor="middle" fill="#000">120</text>
<text x="731.81" y="1484.6" font-size="33" text-anchor="middle" fill="#000">150</text>
<text x="843.86" y="1484.6" font-size="33" text-anchor="middle" fill="#000">180</text>
<text x="955.9" y="1484.6" font-size="33" text-anchor="middle" fill="#000">210</text>
<text x="562" y="1541.1" font-size="35" text-anchor="middle" fill="#000" style="word-spacing:-0.5px">Time (min)</text>
<text transform="translate(94.1 1129) rotate(-90)" font-size="36" text-anchor="middle" style="word-spacing:0.3px">Temoerature (K)</text>
<clipPath id="c5"><rect x="150" y="800" width="830" height="660"/></clipPath>
<g clip-path="url(#c5)">
<path d="M171.7 1266 L176 1261 L180.7 1256.4 L184.35 1263.2 L189 1252.8 L193.2 1248.7 L196.3 1243.5 L198.3 1237.8 L199.4 1234 L202.5 1220 L204.4 1210 L206.25 1202.5 L208.1 1199.4 L211.25 1196.25 L213.1 1188.75 L214.4 1180 L217.5 1170 L221.25 1161.9 L225 1155 L227.7 1152.5 L231.25 1147.5 L235 1138.75 L240 1127.5 L243.75 1118.75 L246.25 1116.5 L251.9 1116.25 L257.5 1113.1 L260 1107.5 L262.5 1098.1 L265 1095 L268.75 1092.5 L271.25 1086.25 L273.75 1080 L278.75 1077.5 L283.5 1073.5 L287.5 1066.9 L290 1060.6 L296.25 1058.75 L299.4 1053.75 L301.9 1050 L307.8 1053.4 L313.75 1047.5 L318.1 1043.75 L323.75 1037.5 L330 1041.25 L335 1034.4 L340 1031.25 L345 1028.1 L351.25 1025 L356.9 1018.1 L362.5 1019.4 L372.5 1016.9 L378.75 1012.5 L385 1010.6 L390 1006.25 L395.6 1006 L400 1003.1 L406.9 996.25 L412.5 996.25 L418.1 998.75 L423.1 988.1 L428.75 989.4 L435 985 L440.6 986.25 L445.6 979.4 L451.25 976.9 L456.25 973.1 L462.5 972.5 L467.5 970 L473.75 968.1 L478.75 966 L484.4 970 L490 961.25 L495.6 965 L501.25 958.75 L507.5 953.75 L516.9 957.5 L525 953.75 L533.75 952.5 L540 947.5 L545 947.6 L550.6 943.75 L555 946.9 L563.5 945 L571.9 941.25 L583.75 936.25 L589.4 932.5 L595 933.75 L601.25 928.75 L606.25 930.6 L611.25 930 L615 931.25 L628.75 931.25 L633.75 925.6 L640 925 L647.5 921.9 L655 921.5 L661.25 925 L666.9 919.4 L671.25 921.5 L677.5 921.9 L683.75 917.5 L688.75 919.4 L695 916.9 L700.6 918.1 L705.6 909.4 L711.25 918.75 L716.9 912.5 L722.5 914.4 L728.75 913.1 L734.4 912.5 L738.75 901.25 L743.1 899.4 L750 905 L756.25 895.6 L761.25 898.1 L766.6 903.5 L770.9 900.6 L776.25 901 L780.5 904.4 L785 900.5 L792.5 896 L800 893.75 L810 888.1 L816 897.25 L826.9 886.9 L838.1 893.5 L845.6 892.5 L849.4 901.9 L856.25 883.75 L861.25 885.6 L866.25 883.75 L871.25 887.5 L875.6 884.4 L881.25 888.75 L886.9 884.4 L892.5 885.6 L897.5 886.25 L902.5 891.25 L905 879.4 L911.25 881.25 L915 879.4 L920.6 883.5 L931.9 883.75 L942.5 878.1 L948.75 886.25 L955.9 882.5" fill="none" stroke="#4596c8" stroke-width="2.9" stroke-linejoin="round"/>
<path d="M171.7 1259.49 L178.4 1270.79 L165 1270.79 Z" fill="#4596c8"/>
<path d="M227.7 1147.39 L234.4 1158.69 L221 1158.69 Z" fill="#4596c8"/>
<path d="M283.7 1066.49 L290.4 1077.79 L277 1077.79 Z" fill="#4596c8"/>
<path d="M339.7 1024.29 L346.4 1035.59 L333 1035.59 Z" fill="#4596c8"/>
<path d="M395.7 1000.29 L402.4 1011.59 L389 1011.59 Z" fill="#4596c8"/>
<path d="M451.7 969.99 L458.4 981.29 L445 981.29 Z" fill="#4596c8"/>
<path d="M507.7 946.29 L514.4 957.59 L501 957.59 Z" fill="#4596c8"/>
<path d="M563.7 938.49 L570.4 949.79 L557 949.79 Z" fill="#4596c8"/>
<path d="M619.7 921.49 L626.4 932.79 L613 932.79 Z" fill="#4596c8"/>
<path d="M675.7 915.49 L682.4 926.79 L669 926.79 Z" fill="#4596c8"/>
<path d="M731.7 907.49 L738.4 918.79 L725 918.79 Z" fill="#4596c8"/>
<path d="M787.7 892.69 L794.4 903.99 L781 903.99 Z" fill="#4596c8"/>
<path d="M843.7 882.29 L850.4 893.59 L837 893.59 Z" fill="#4596c8"/>
<path d="M899.7 885.19 L906.4 896.49 L893 896.49 Z" fill="#4596c8"/>
<path d="M955.7 874.79 L962.4 886.09 L949 886.09 Z" fill="#4596c8"/>
<path d="M171.7 1266 L173.7 1262.96 L175.7 1259.93 L177.7 1256.91 L179.7 1253.91 L181.7 1250.92 L183.7 1247.93 L185.7 1244.97 L187.7 1242.01 L189.7 1239.07 L191.7 1236.13 L193.7 1233.22 L195.7 1230.31 L197.7 1227.42 L199.7 1224.54 L201.7 1221.67 L203.7 1218.81 L205.7 1215.97 L207.7 1213.14 L209.7 1210.33 L211.7 1207.53 L213.7 1204.74 L215.7 1201.96 L217.7 1199.2 L219.7 1196.45 L221.7 1193.72 L223.7 1191 L225.7 1188.29 L227.7 1185.6 L229.7 1182.92 L231.7 1180.23 L233.7 1177.55 L235.7 1174.87 L237.7 1172.2 L239.7 1169.53 L241.7 1166.87 L243.7 1164.22 L245.7 1161.58 L247.7 1158.95 L249.7 1156.34 L251.7 1153.73 L253.7 1151.15 L255.7 1148.58 L257.7 1146.02 L259.7 1143.49 L261.7 1140.97 L263.7 1138.48 L265.7 1136.01 L267.7 1133.56 L269.7 1131.14 L271.7 1128.74 L273.7 1126.38 L275.7 1124.04 L277.7 1121.73 L279.7 1119.45 L281.7 1117.21 L283.7 1115 L285.7 1112.82 L287.7 1110.65 L289.7 1108.51 L291.7 1106.38 L293.7 1104.27 L295.7 1102.18 L297.7 1100.11 L299.7 1098.06 L301.7 1096.02 L303.7 1094 L305.7 1092 L307.7 1090.02 L309.7 1088.06 L311.7 1086.11 L313.7 1084.19 L315.7 1082.27 L317.7 1080.38 L319.7 1078.51 L321.7 1076.65 L323.7 1074.81 L325.7 1072.99 L327.7 1071.18 L329.7 1069.39 L331.7 1067.62 L333.7 1065.86 L335.7 1064.13 L337.7 1062.4 L339.7 1060.7 L341.7 1059.01 L343.7 1057.34 L345.7 1055.68 L347.7 1054.03 L349.7 1052.4 L351.7 1050.78 L353.7 1049.18 L355.7 1047.59 L357.7 1046.01 L359.7 1044.45 L361.7 1042.9 L363.7 1041.36 L365.7 1039.84 L367.7 1038.33 L369.7 1036.84 L371.7 1035.35 L373.7 1033.88 L375.7 1032.42 L377.7 1030.98 L379.7 1029.54 L381.7 1028.12 L383.7 1026.71 L385.7 1025.31 L387.7 1023.93 L389.7 1022.55 L391.7 1021.19 L393.7 1019.84 L395.7 1018.5 L397.7 1017.17 L399.7 1015.86 L401.7 1014.55 L403.7 1013.26 L405.7 1011.98 L407.7 1010.71 L409.7 1009.45 L411.7 1008.2 L413.7 1006.96 L415.7 1005.73 L417.7 1004.51 L419.7 1003.3 L421.7 1002.09 L423.7 1000.9 L425.7 999.72 L427.7 998.54 L429.7 997.37 L431.7 996.22 L433.7 995.06 L435.7 993.92 L437.7 992.78 L439.7 991.65 L441.7 990.53 L443.7 989.41 L445.7 988.3 L447.7 987.19 L449.7 986.09 L451.7 985 L453.7 983.91 L455.7 982.83 L457.7 981.75 L459.7 980.67 L461.7 979.61 L463.7 978.54 L465.7 977.49 L467.7 976.43 L469.7 975.39 L471.7 974.35 L473.7 973.32 L475.7 972.29 L477.7 971.27 L479.7 970.26 L481.7 969.26 L483.7 968.26 L485.7 967.27 L487.7 966.28 L489.7 965.31 L491.7 964.34 L493.7 963.38 L495.7 962.43 L497.7 961.49 L499.7 960.55 L501.7 959.63 L503.7 958.71 L505.7 957.8 L507.7 956.9 L509.7 956.01 L511.7 955.12 L513.7 954.24 L515.7 953.36 L517.7 952.49 L519.7 951.62 L521.7 950.76 L523.7 949.9 L525.7 949.05 L527.7 948.21 L529.7 947.37 L531.7 946.54 L533.7 945.72 L535.7 944.9 L537.7 944.09 L539.7 943.29 L541.7 942.5 L543.7 941.71 L545.7 940.93 L547.7 940.16 L549.7 939.39 L551.7 938.64 L553.7 937.89 L555.7 937.16 L557.7 936.43 L559.7 935.71 L561.7 935 L563.7 934.3 L565.7 933.61 L567.7 932.92 L569.7 932.24 L571.7 931.57 L573.7 930.91 L575.7 930.25 L577.7 929.59 L579.7 928.95 L581.7 928.31 L583.7 927.67 L585.7 927.04 L587.7 926.42 L589.7 925.81 L591.7 925.19 L593.7 924.59 L595.7 923.99 L597.7 923.4 L599.7 922.81 L601.7 922.22 L603.7 921.65 L605.7 921.07 L607.7 920.5 L609.7 919.94 L611.7 919.38 L613.7 918.83 L615.7 918.28 L617.7 917.74 L619.7 917.2 L621.7 916.67 L623.7 916.13 L625.7 915.61 L627.7 915.08 L629.7 914.56 L631.7 914.05 L633.7 913.54 L635.7 913.03 L637.7 912.52 L639.7 912.03 L641.7 911.53 L643.7 911.04 L645.7 910.55 L647.7 910.07 L649.7 909.59 L651.7 909.12 L653.7 908.65 L655.7 908.18 L657.7 907.72 L659.7 907.27 L661.7 906.82 L663.7 906.37 L665.7 905.93 L667.7 905.5 L669.7 905.06 L671.7 904.64 L673.7 904.22 L675.7 903.8 L677.7 903.39 L679.7 902.98 L681.7 902.58 L683.7 902.19 L685.7 901.8 L687.7 901.41 L689.7 901.03 L691.7 900.65 L693.7 900.28 L695.7 899.91 L697.7 899.54 L699.7 899.18 L701.7 898.82 L703.7 898.46 L705.7 898.11 L707.7 897.75 L709.7 897.4 L711.7 897.05 L713.7 896.7 L715.7 896.36 L717.7 896.01 L719.7 895.67 L721.7 895.32 L723.7 894.98 L725.7 894.63 L727.7 894.29 L729.7 893.95 L731.7 893.6 L733.7 893.25 L735.7 892.91 L737.7 892.57 L739.7 892.22 L741.7 891.88 L743.7 891.54 L745.7 891.2 L747.7 890.86 L749.7 890.52 L751.7 890.18 L753.7 889.85 L755.7 889.51 L757.7 889.18 L759.7 888.85 L761.7 888.52 L763.7 888.19 L765.7 887.86 L767.7 887.54 L769.7 887.21 L771.7 886.89 L773.7 886.57 L775.7 886.25 L777.7 885.94 L779.7 885.63 L781.7 885.32 L783.7 885.01 L785.7 884.7 L787.7 884.4 L789.7 884.1 L791.7 883.8 L793.7 883.5 L795.7 883.2 L797.7 882.9 L799.7 882.6 L801.7 882.31 L803.7 882.01 L805.7 881.72 L807.7 881.43 L809.7 881.14 L811.7 880.85 L813.7 880.56 L815.7 880.28 L817.7 879.99 L819.7 879.71 L821.7 879.44 L823.7 879.16 L825.7 878.89 L827.7 878.62 L829.7 878.36 L831.7 878.1 L833.7 877.84 L835.7 877.58 L837.7 877.33 L839.7 877.08 L841.7 876.84 L843.7 876.6 L845.7 876.36 L847.7 876.13 L849.7 875.9 L851.7 875.67 L853.7 875.45 L855.7 875.22 L857.7 875 L859.7 874.79 L861.7 874.57 L863.7 874.36 L865.7 874.15 L867.7 873.94 L869.7 873.73 L871.7 873.52 L873.7 873.32 L875.7 873.12 L877.7 872.92 L879.7 872.72 L881.7 872.52 L883.7 872.33 L885.7 872.13 L887.7 871.94 L889.7 871.75 L891.7 871.56 L893.7 871.37 L895.7 871.18 L897.7 870.99 L899.7 870.8 L901.7 870.61 L903.7 870.43 L905.7 870.24 L907.7 870.06 L909.7 869.88 L911.7 869.69 L913.7 869.51 L915.7 869.33 L917.7 869.16 L919.7 868.98 L921.7 868.8 L923.7 868.63 L925.7 868.45 L927.7 868.28 L929.7 868.11 L931.7 867.94 L933.7 867.77 L935.7 867.6 L937.7 867.44 L939.7 867.27 L941.7 867.11 L943.7 866.95 L945.7 866.79 L947.7 866.63 L949.7 866.47 L951.7 866.31 L953.7 866.15 L955.7 866" fill="none" stroke="#fda54b" stroke-width="3" stroke-linejoin="round"/>
<circle cx="171.7" cy="1266" r="6" fill="#fda54b"/>
<circle cx="227.7" cy="1185.6" r="6" fill="#fda54b"/>
<circle cx="283.7" cy="1115" r="6" fill="#fda54b"/>
<circle cx="339.7" cy="1060.7" r="6" fill="#fda54b"/>
<circle cx="395.7" cy="1018.5" r="6" fill="#fda54b"/>
<circle cx="451.7" cy="985" r="6" fill="#fda54b"/>
<circle cx="507.7" cy="956.9" r="6" fill="#fda54b"/>
<circle cx="563.7" cy="934.3" r="6" fill="#fda54b"/>
<circle cx="619.7" cy="917.2" r="6" fill="#fda54b"/>
<circle cx="675.7" cy="903.8" r="6" fill="#fda54b"/>
<circle cx="731.7" cy="893.6" r="6" fill="#fda54b"/>
<circle cx="787.7" cy="884.4" r="6" fill="#fda54b"/>
<circle cx="843.7" cy="876.6" r="6" fill="#fda54b"/>
<circle cx="899.7" cy="870.8" r="6" fill="#fda54b"/>
<circle cx="955.7" cy="866" r="6" fill="#fda54b"/>
<path d="M171.7 1347.75 L173.7 1343.6 L175.7 1339.47 L177.7 1335.37 L179.7 1331.3 L181.7 1327.26 L183.7 1323.25 L185.7 1319.27 L187.7 1315.32 L189.7 1311.4 L191.7 1307.51 L193.7 1303.66 L195.7 1299.84 L197.7 1296.05 L199.7 1292.29 L201.7 1288.57 L203.7 1284.89 L205.7 1281.23 L207.7 1277.62 L209.7 1274.04 L211.7 1270.49 L213.7 1266.98 L215.7 1263.51 L217.7 1260.08 L219.7 1256.69 L221.7 1253.33 L223.7 1250.01 L225.7 1246.74 L227.7 1243.5 L229.7 1240.3 L231.7 1237.13 L233.7 1234 L235.7 1230.9 L237.7 1227.83 L239.7 1224.79 L241.7 1221.79 L243.7 1218.81 L245.7 1215.86 L247.7 1212.93 L249.7 1210.04 L251.7 1207.17 L253.7 1204.32 L255.7 1201.51 L257.7 1198.71 L259.7 1195.94 L261.7 1193.19 L263.7 1190.46 L265.7 1187.75 L267.7 1185.07 L269.7 1182.4 L271.7 1179.75 L273.7 1177.12 L275.7 1174.5 L277.7 1171.9 L279.7 1169.32 L281.7 1166.75 L283.7 1164.2 L285.7 1161.66 L287.7 1159.14 L289.7 1156.63 L291.7 1154.14 L293.7 1151.67 L295.7 1149.22 L297.7 1146.78 L299.7 1144.35 L301.7 1141.95 L303.7 1139.56 L305.7 1137.18 L307.7 1134.83 L309.7 1132.49 L311.7 1130.17 L313.7 1127.86 L315.7 1125.57 L317.7 1123.3 L319.7 1121.04 L321.7 1118.8 L323.7 1116.58 L325.7 1114.37 L327.7 1112.18 L329.7 1110.01 L331.7 1107.86 L333.7 1105.72 L335.7 1103.59 L337.7 1101.49 L339.7 1099.4 L341.7 1097.33 L343.7 1095.27 L345.7 1093.22 L347.7 1091.19 L349.7 1089.17 L351.7 1087.17 L353.7 1085.18 L355.7 1083.2 L357.7 1081.24 L359.7 1079.29 L361.7 1077.35 L363.7 1075.43 L365.7 1073.52 L367.7 1071.63 L369.7 1069.75 L371.7 1067.88 L373.7 1066.03 L375.7 1064.18 L377.7 1062.36 L379.7 1060.54 L381.7 1058.74 L383.7 1056.95 L385.7 1055.18 L387.7 1053.42 L389.7 1051.67 L391.7 1049.93 L393.7 1048.21 L395.7 1046.5 L397.7 1044.8 L399.7 1043.11 L401.7 1041.43 L403.7 1039.76 L405.7 1038.09 L407.7 1036.44 L409.7 1034.79 L411.7 1033.16 L413.7 1031.54 L415.7 1029.93 L417.7 1028.32 L419.7 1026.73 L421.7 1025.16 L423.7 1023.59 L425.7 1022.04 L427.7 1020.5 L429.7 1018.97 L431.7 1017.45 L433.7 1015.95 L435.7 1014.46 L437.7 1012.99 L439.7 1011.53 L441.7 1010.09 L443.7 1008.66 L445.7 1007.25 L447.7 1005.85 L449.7 1004.47 L451.7 1003.1 L453.7 1001.75 L455.7 1000.41 L457.7 999.09 L459.7 997.78 L461.7 996.48 L463.7 995.19 L465.7 993.91 L467.7 992.65 L469.7 991.4 L471.7 990.15 L473.7 988.92 L475.7 987.7 L477.7 986.49 L479.7 985.29 L481.7 984.09 L483.7 982.91 L485.7 981.73 L487.7 980.57 L489.7 979.41 L491.7 978.26 L493.7 977.12 L495.7 975.98 L497.7 974.85 L499.7 973.73 L501.7 972.61 L503.7 971.5 L505.7 970.4 L507.7 969.3 L509.7 968.21 L511.7 967.11 L513.7 966.02 L515.7 964.94 L517.7 963.86 L519.7 962.78 L521.7 961.71 L523.7 960.64 L525.7 959.58 L527.7 958.53 L529.7 957.48 L531.7 956.44 L533.7 955.41 L535.7 954.39 L537.7 953.37 L539.7 952.37 L541.7 951.37 L543.7 950.38 L545.7 949.41 L547.7 948.45 L549.7 947.5 L551.7 946.56 L553.7 945.63 L555.7 944.71 L557.7 943.81 L559.7 942.93 L561.7 942.06 L563.7 941.2 L565.7 940.36 L567.7 939.52 L569.7 938.7 L571.7 937.88 L573.7 937.07 L575.7 936.28 L577.7 935.49 L579.7 934.71 L581.7 933.94 L583.7 933.17 L585.7 932.42 L587.7 931.67 L589.7 930.93 L591.7 930.2 L593.7 929.47 L595.7 928.75 L597.7 928.04 L599.7 927.33 L601.7 926.63 L603.7 925.94 L605.7 925.25 L607.7 924.57 L609.7 923.9 L611.7 923.23 L613.7 922.56 L615.7 921.9 L617.7 921.25 L619.7 920.6 L621.7 919.96 L623.7 919.32 L625.7 918.68 L627.7 918.06 L629.7 917.43 L631.7 916.82 L633.7 916.21 L635.7 915.6 L637.7 915 L639.7 914.4 L641.7 913.81 L643.7 913.23 L645.7 912.64 L647.7 912.07 L649.7 911.49 L651.7 910.93 L653.7 910.36 L655.7 909.8 L657.7 909.24 L659.7 908.69 L661.7 908.14 L663.7 907.6 L665.7 907.06 L667.7 906.52 L669.7 905.98 L671.7 905.45 L673.7 904.93 L675.7 904.4 L677.7 903.88 L679.7 903.36 L681.7 902.84 L683.7 902.32 L685.7 901.81 L687.7 901.3 L689.7 900.8 L691.7 900.29 L693.7 899.79 L695.7 899.29 L697.7 898.8 L699.7 898.31 L701.7 897.82 L703.7 897.34 L705.7 896.86 L707.7 896.38 L709.7 895.91 L711.7 895.44 L713.7 894.98 L715.7 894.52 L717.7 894.06 L719.7 893.61 L721.7 893.16 L723.7 892.72 L725.7 892.28 L727.7 891.85 L729.7 891.42 L731.7 891 L733.7 890.58 L735.7 890.17 L737.7 889.76 L739.7 889.35 L741.7 888.95 L743.7 888.55 L745.7 888.16 L747.7 887.77 L749.7 887.38 L751.7 887 L753.7 886.61 L755.7 886.24 L757.7 885.86 L759.7 885.49 L761.7 885.12 L763.7 884.75 L765.7 884.39 L767.7 884.03 L769.7 883.67 L771.7 883.31 L773.7 882.95 L775.7 882.6 L777.7 882.24 L779.7 881.89 L781.7 881.54 L783.7 881.19 L785.7 880.85 L787.7 880.5 L789.7 880.15 L791.7 879.81 L793.7 879.46 L795.7 879.11 L797.7 878.77 L799.7 878.42 L801.7 878.08 L803.7 877.74 L805.7 877.39 L807.7 877.05 L809.7 876.72 L811.7 876.38 L813.7 876.05 L815.7 875.71 L817.7 875.39 L819.7 875.06 L821.7 874.74 L823.7 874.42 L825.7 874.11 L827.7 873.8 L829.7 873.49 L831.7 873.19 L833.7 872.9 L835.7 872.61 L837.7 872.32 L839.7 872.04 L841.7 871.77 L843.7 871.5 L845.7 871.24 L847.7 870.98 L849.7 870.72 L851.7 870.46 L853.7 870.21 L855.7 869.96 L857.7 869.71 L859.7 869.46 L861.7 869.22 L863.7 868.98 L865.7 868.75 L867.7 868.51 L869.7 868.28 L871.7 868.05 L873.7 867.83 L875.7 867.61 L877.7 867.39 L879.7 867.17 L881.7 866.96 L883.7 866.75 L885.7 866.55 L887.7 866.34 L889.7 866.14 L891.7 865.95 L893.7 865.76 L895.7 865.57 L897.7 865.38 L899.7 865.2 L901.7 865.02 L903.7 864.84 L905.7 864.67 L907.7 864.49 L909.7 864.32 L911.7 864.15 L913.7 863.98 L915.7 863.82 L917.7 863.65 L919.7 863.49 L921.7 863.33 L923.7 863.17 L925.7 863.02 L927.7 862.86 L929.7 862.71 L931.7 862.56 L933.7 862.42 L935.7 862.28 L937.7 862.14 L939.7 862 L941.7 861.86 L943.7 861.73 L945.7 861.6 L947.7 861.48 L949.7 861.35 L951.7 861.23 L953.7 861.11 L955.7 861" fill="none" stroke="#c90000" stroke-width="3" stroke-linejoin="round"/>
<rect x="166.5" y="1342.55" width="10.4" height="10.4" fill="#c90000"/>
<rect x="222.5" y="1238.3" width="10.4" height="10.4" fill="#c90000"/>
<rect x="278.5" y="1159" width="10.4" height="10.4" fill="#c90000"/>
<rect x="334.5" y="1094.2" width="10.4" height="10.4" fill="#c90000"/>
<rect x="390.5" y="1041.3" width="10.4" height="10.4" fill="#c90000"/>
<rect x="446.5" y="997.9" width="10.4" height="10.4" fill="#c90000"/>
<rect x="502.5" y="964.1" width="10.4" height="10.4" fill="#c90000"/>
<rect x="558.5" y="936" width="10.4" height="10.4" fill="#c90000"/>
<rect x="614.5" y="915.4" width="10.4" height="10.4" fill="#c90000"/>
<rect x="670.5" y="899.2" width="10.4" height="10.4" fill="#c90000"/>
<rect x="726.5" y="885.8" width="10.4" height="10.4" fill="#c90000"/>
<rect x="782.5" y="875.3" width="10.4" height="10.4" fill="#c90000"/>
<rect x="838.5" y="866.3" width="10.4" height="10.4" fill="#c90000"/>
<rect x="894.5" y="860" width="10.4" height="10.4" fill="#c90000"/>
<rect x="950.5" y="855.8" width="10.4" height="10.4" fill="#c90000"/>
</g>
<rect x="171.6" y="813.7" width="784.3" height="631.6" fill="none" stroke="#000" stroke-width="3.1"/>
</g>
<text x="-0.9" y="840.2" font-size="59.5" text-anchor="start" fill="#d42a2a" letter-spacing="3.4">(c)</text>
<rect x="473.4" y="1257.4" width="408" height="104" fill="#fff" stroke="#000" stroke-width="1"/>
<path d="M473.9 1257.4H880.9" stroke="#b0b0b0" stroke-width="1.2"/>
<path d="M477.6 1275.8H513.2" stroke="#c90000" stroke-width="3" stroke-linecap="round"/>
<rect x="489.65" y="1270.15" width="10.5" height="10.5" fill="#c90000"/>
<text x="520.6" y="1284.8" font-size="27" text-anchor="start" fill="#000" style="word-spacing:-0.45px">Simulation results of this study</text>
<path d="M477.6 1309.3H513.2" stroke="#fda54b" stroke-width="3" stroke-linecap="round"/>
<circle cx="495.4" cy="1309.3" r="6" fill="#fda54b"/>
<text x="520.6" y="1318.3" font-size="27" text-anchor="start" fill="#000" style="word-spacing:-0.45px">Simulation results of reference</text>
<path d="M477.6 1342.8H513.2" stroke="#4596c8" stroke-width="3" stroke-linecap="round"/>
<path d="M495.7 1335.89 L502.3 1347.19 L489.1 1347.19 Z" fill="#4596c8"/>
<text x="520.6" y="1351.8" font-size="27" text-anchor="start" fill="#000" style="word-spacing:-0.45px">Experimental results of reference</text>
</svg></body></html>
